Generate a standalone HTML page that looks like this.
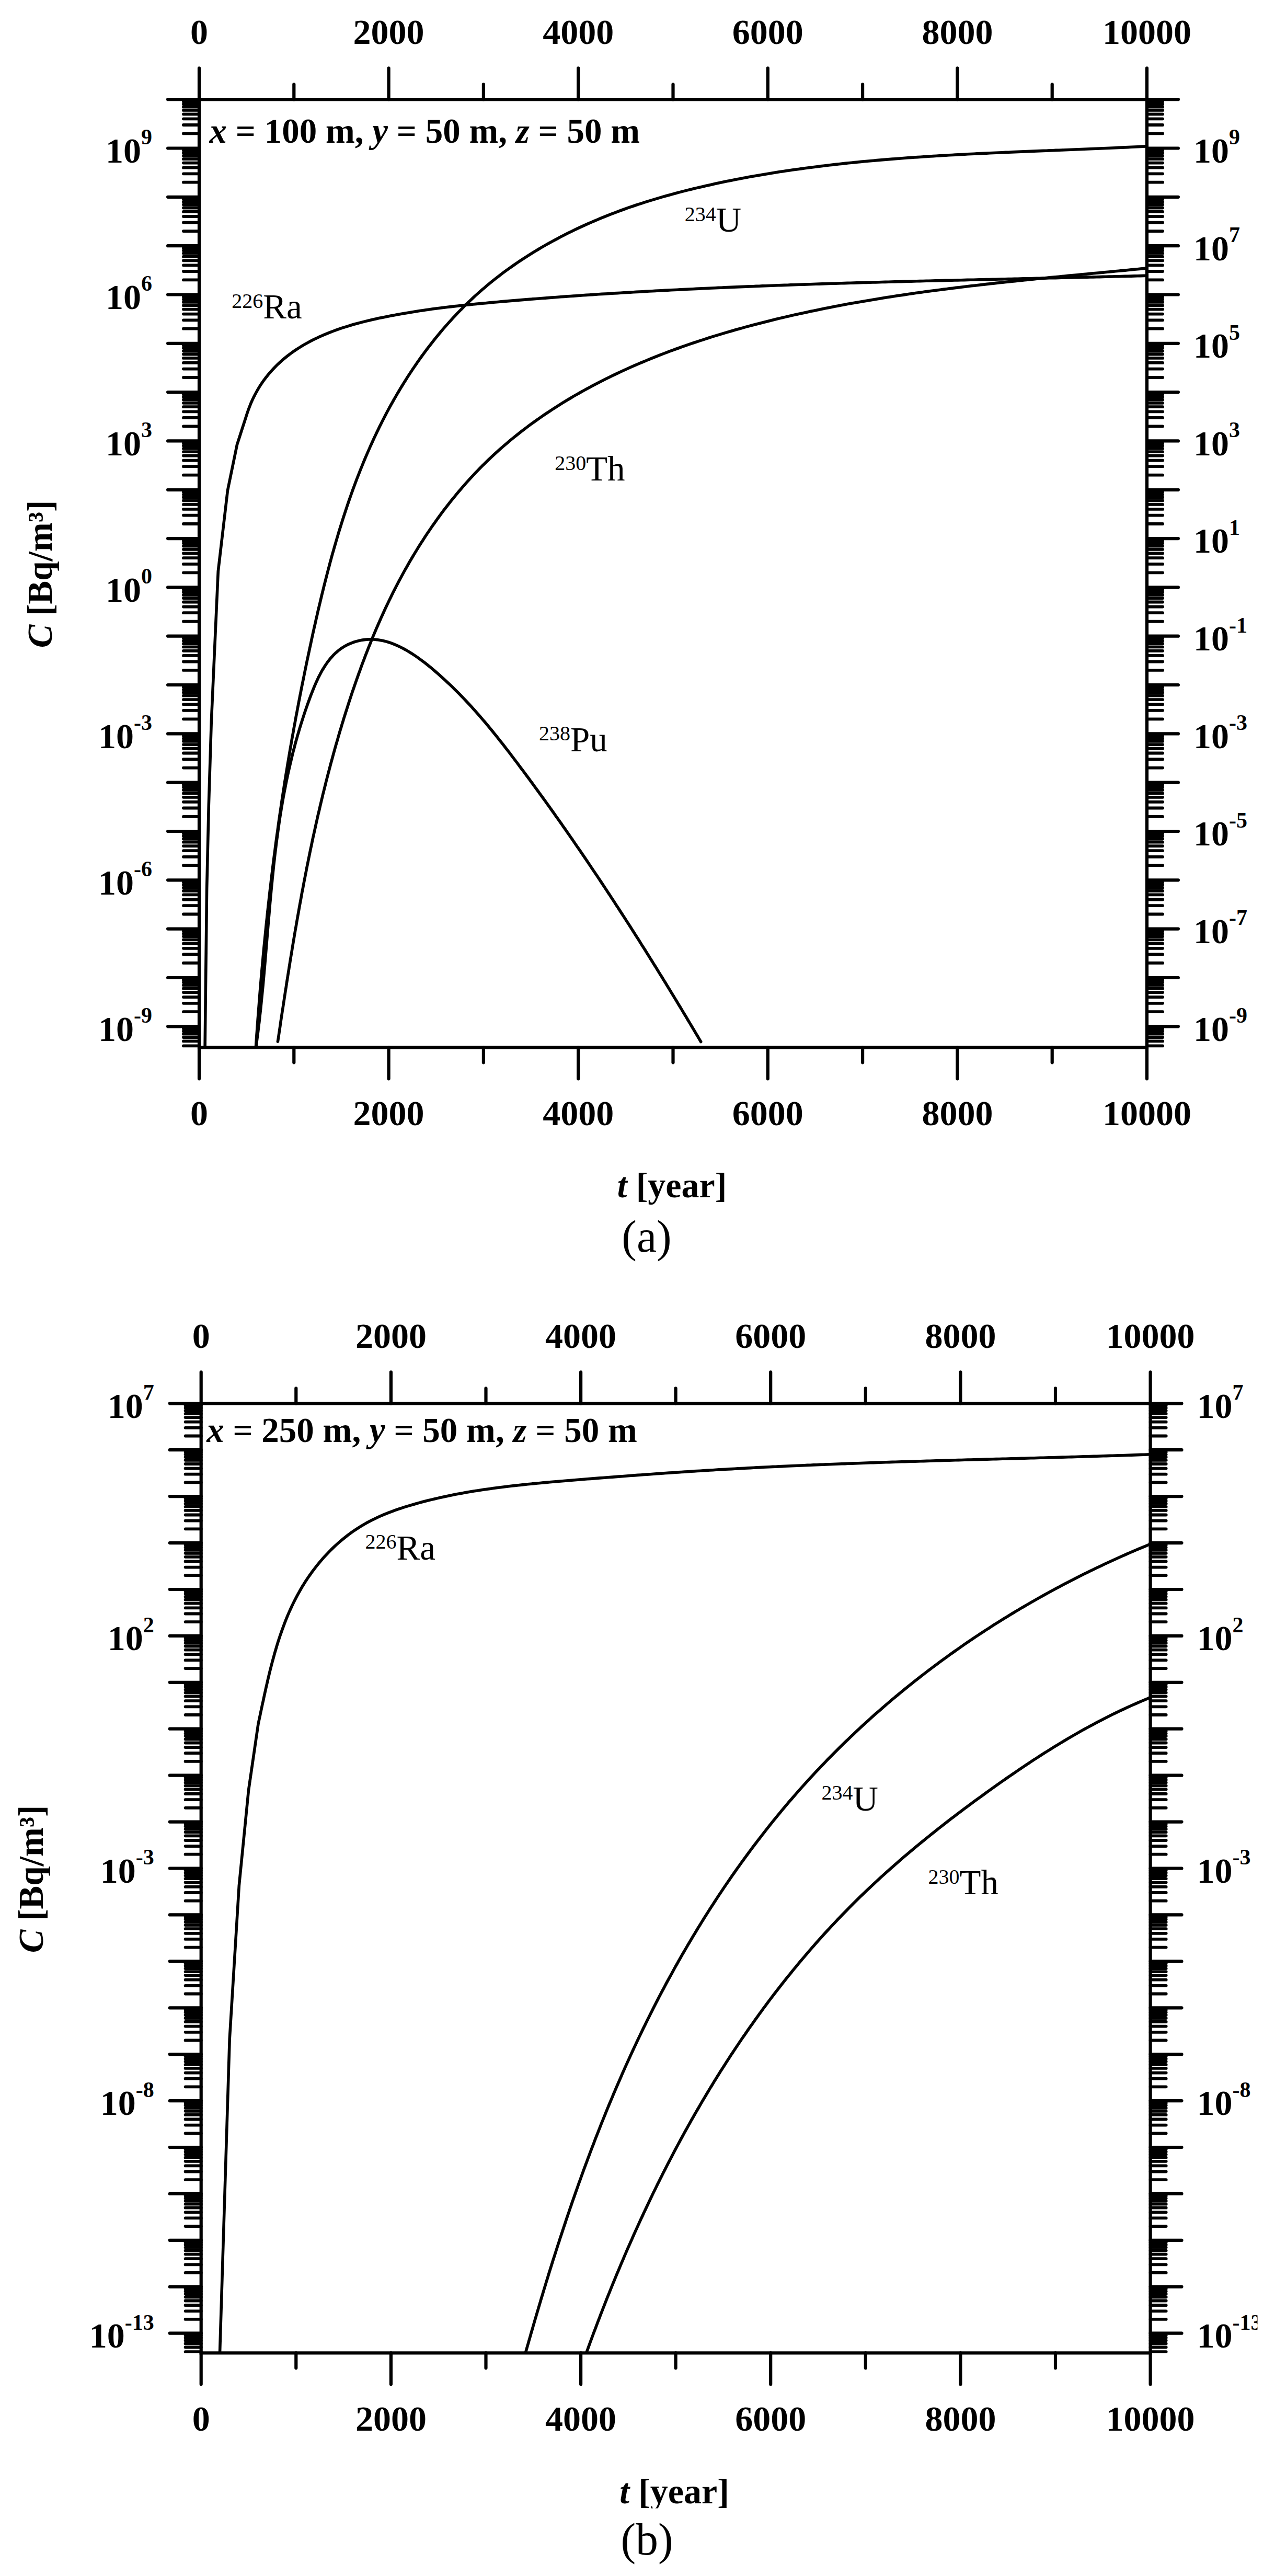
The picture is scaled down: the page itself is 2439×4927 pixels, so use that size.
<!DOCTYPE html>
<html lang="en"><head><meta charset="utf-8"><title>Radionuclide concentration vs time</title>
<style>html,body{margin:0;padding:0;background:#fff}body{width:2439px;height:4927px;overflow:hidden}svg{display:block}text{font-family:"Liberation Serif","Times New Roman",serif;fill:#000}.b{font-weight:bold;font-size:68px}.i{font-style:italic}.sp{font-size:42px}.an{font-size:67px}.n{font-size:67px}.ns{font-size:40px}.cap{font-size:86px}</style></head><body>
<svg width="2439" height="4927" viewBox="0 0 2439 4927">
<rect width="2439" height="4927" fill="#fff"/>
<g fill="none" stroke="#000" stroke-width="6.2" stroke-linecap="round"><rect x="381" y="190.2" width="1813" height="1813.2" fill="none"/><path d="M381,190.2 V130.3 M381,2003.4 V2063.3 M562.3,190.2 V161.3 M562.3,2003.4 V2032.3 M743.6,190.2 V130.3 M743.6,2003.4 V2063.3 M924.9,190.2 V161.3 M924.9,2003.4 V2032.3 M1106.2,190.2 V130.3 M1106.2,2003.4 V2063.3 M1287.5,190.2 V161.3 M1287.5,2003.4 V2032.3 M1468.8,190.2 V130.3 M1468.8,2003.4 V2063.3 M1650.1,190.2 V161.3 M1650.1,2003.4 V2032.3 M1831.4,190.2 V130.3 M1831.4,2003.4 V2063.3 M2012.7,190.2 V161.3 M2012.7,2003.4 V2032.3 M2194,190.2 V130.3 M2194,2003.4 V2063.3 M381,190.2 H321.1 M2194,190.2 H2253.9 M381,283.5 H321.1 M2194,283.5 H2253.9 M381,376.8 H321.1 M2194,376.8 H2253.9 M381,470.2 H321.1 M2194,470.2 H2253.9 M381,563.5 H321.1 M2194,563.5 H2253.9 M381,656.8 H321.1 M2194,656.8 H2253.9 M381,750.1 H321.1 M2194,750.1 H2253.9 M381,843.4 H321.1 M2194,843.4 H2253.9 M381,936.8 H321.1 M2194,936.8 H2253.9 M381,1030.1 H321.1 M2194,1030.1 H2253.9 M381,1123.4 H321.1 M2194,1123.4 H2253.9 M381,1216.7 H321.1 M2194,1216.7 H2253.9 M381,1310 H321.1 M2194,1310 H2253.9 M381,1403.4 H321.1 M2194,1403.4 H2253.9 M381,1496.7 H321.1 M2194,1496.7 H2253.9 M381,1590 H321.1 M2194,1590 H2253.9 M381,1683.3 H321.1 M2194,1683.3 H2253.9 M381,1776.6 H321.1 M2194,1776.6 H2253.9 M381,1870 H321.1 M2194,1870 H2253.9 M381,1963.3 H321.1 M2194,1963.3 H2253.9"/><path stroke-width="5.8" d="M381,255.4 H350.9 M2194,255.4 H2224.1 M381,239 H350.9 M2194,239 H2224.1 M381,227.3 H350.9 M2194,227.3 H2224.1 M381,218.3 H350.9 M2194,218.3 H2224.1 M381,210.9 H350.9 M2194,210.9 H2224.1 M381,204.7 H350.9 M2194,204.7 H2224.1 M381,199.2 H350.9 M2194,199.2 H2224.1 M381,194.5 H350.9 M2194,194.5 H2224.1 M381,348.7 H350.9 M2194,348.7 H2224.1 M381,332.3 H350.9 M2194,332.3 H2224.1 M381,320.7 H350.9 M2194,320.7 H2224.1 M381,311.6 H350.9 M2194,311.6 H2224.1 M381,304.2 H350.9 M2194,304.2 H2224.1 M381,298 H350.9 M2194,298 H2224.1 M381,292.6 H350.9 M2194,292.6 H2224.1 M381,287.8 H350.9 M2194,287.8 H2224.1 M381,442.1 H350.9 M2194,442.1 H2224.1 M381,425.6 H350.9 M2194,425.6 H2224.1 M381,414 H350.9 M2194,414 H2224.1 M381,404.9 H350.9 M2194,404.9 H2224.1 M381,397.5 H350.9 M2194,397.5 H2224.1 M381,391.3 H350.9 M2194,391.3 H2224.1 M381,385.9 H350.9 M2194,385.9 H2224.1 M381,381.1 H350.9 M2194,381.1 H2224.1 M381,535.4 H350.9 M2194,535.4 H2224.1 M381,519 H350.9 M2194,519 H2224.1 M381,507.3 H350.9 M2194,507.3 H2224.1 M381,498.3 H350.9 M2194,498.3 H2224.1 M381,490.9 H350.9 M2194,490.9 H2224.1 M381,484.6 H350.9 M2194,484.6 H2224.1 M381,479.2 H350.9 M2194,479.2 H2224.1 M381,474.4 H350.9 M2194,474.4 H2224.1 M381,628.7 H350.9 M2194,628.7 H2224.1 M381,612.3 H350.9 M2194,612.3 H2224.1 M381,600.6 H350.9 M2194,600.6 H2224.1 M381,591.6 H350.9 M2194,591.6 H2224.1 M381,584.2 H350.9 M2194,584.2 H2224.1 M381,577.9 H350.9 M2194,577.9 H2224.1 M381,572.5 H350.9 M2194,572.5 H2224.1 M381,567.8 H350.9 M2194,567.8 H2224.1 M381,722 H350.9 M2194,722 H2224.1 M381,705.6 H350.9 M2194,705.6 H2224.1 M381,693.9 H350.9 M2194,693.9 H2224.1 M381,684.9 H350.9 M2194,684.9 H2224.1 M381,677.5 H350.9 M2194,677.5 H2224.1 M381,671.3 H350.9 M2194,671.3 H2224.1 M381,665.8 H350.9 M2194,665.8 H2224.1 M381,661.1 H350.9 M2194,661.1 H2224.1 M381,815.3 H350.9 M2194,815.3 H2224.1 M381,798.9 H350.9 M2194,798.9 H2224.1 M381,787.3 H350.9 M2194,787.3 H2224.1 M381,778.2 H350.9 M2194,778.2 H2224.1 M381,770.8 H350.9 M2194,770.8 H2224.1 M381,764.6 H350.9 M2194,764.6 H2224.1 M381,759.2 H350.9 M2194,759.2 H2224.1 M381,754.4 H350.9 M2194,754.4 H2224.1 M381,908.7 H350.9 M2194,908.7 H2224.1 M381,892.2 H350.9 M2194,892.2 H2224.1 M381,880.6 H350.9 M2194,880.6 H2224.1 M381,871.5 H350.9 M2194,871.5 H2224.1 M381,864.1 H350.9 M2194,864.1 H2224.1 M381,857.9 H350.9 M2194,857.9 H2224.1 M381,852.5 H350.9 M2194,852.5 H2224.1 M381,847.7 H350.9 M2194,847.7 H2224.1 M381,1002 H350.9 M2194,1002 H2224.1 M381,985.6 H350.9 M2194,985.6 H2224.1 M381,973.9 H350.9 M2194,973.9 H2224.1 M381,964.9 H350.9 M2194,964.9 H2224.1 M381,957.5 H350.9 M2194,957.5 H2224.1 M381,951.2 H350.9 M2194,951.2 H2224.1 M381,945.8 H350.9 M2194,945.8 H2224.1 M381,941 H350.9 M2194,941 H2224.1 M381,1095.3 H350.9 M2194,1095.3 H2224.1 M381,1078.9 H350.9 M2194,1078.9 H2224.1 M381,1067.2 H350.9 M2194,1067.2 H2224.1 M381,1058.2 H350.9 M2194,1058.2 H2224.1 M381,1050.8 H350.9 M2194,1050.8 H2224.1 M381,1044.5 H350.9 M2194,1044.5 H2224.1 M381,1039.1 H350.9 M2194,1039.1 H2224.1 M381,1034.4 H350.9 M2194,1034.4 H2224.1 M381,1188.6 H350.9 M2194,1188.6 H2224.1 M381,1172.2 H350.9 M2194,1172.2 H2224.1 M381,1160.5 H350.9 M2194,1160.5 H2224.1 M381,1151.5 H350.9 M2194,1151.5 H2224.1 M381,1144.1 H350.9 M2194,1144.1 H2224.1 M381,1137.9 H350.9 M2194,1137.9 H2224.1 M381,1132.4 H350.9 M2194,1132.4 H2224.1 M381,1127.7 H350.9 M2194,1127.7 H2224.1 M381,1281.9 H350.9 M2194,1281.9 H2224.1 M381,1265.5 H350.9 M2194,1265.5 H2224.1 M381,1253.9 H350.9 M2194,1253.9 H2224.1 M381,1244.8 H350.9 M2194,1244.8 H2224.1 M381,1237.4 H350.9 M2194,1237.4 H2224.1 M381,1231.2 H350.9 M2194,1231.2 H2224.1 M381,1225.8 H350.9 M2194,1225.8 H2224.1 M381,1221 H350.9 M2194,1221 H2224.1 M381,1375.3 H350.9 M2194,1375.3 H2224.1 M381,1358.8 H350.9 M2194,1358.8 H2224.1 M381,1347.2 H350.9 M2194,1347.2 H2224.1 M381,1338.1 H350.9 M2194,1338.1 H2224.1 M381,1330.7 H350.9 M2194,1330.7 H2224.1 M381,1324.5 H350.9 M2194,1324.5 H2224.1 M381,1319.1 H350.9 M2194,1319.1 H2224.1 M381,1314.3 H350.9 M2194,1314.3 H2224.1 M381,1468.6 H350.9 M2194,1468.6 H2224.1 M381,1452.2 H350.9 M2194,1452.2 H2224.1 M381,1440.5 H350.9 M2194,1440.5 H2224.1 M381,1431.5 H350.9 M2194,1431.5 H2224.1 M381,1424.1 H350.9 M2194,1424.1 H2224.1 M381,1417.8 H350.9 M2194,1417.8 H2224.1 M381,1412.4 H350.9 M2194,1412.4 H2224.1 M381,1407.6 H350.9 M2194,1407.6 H2224.1 M381,1561.9 H350.9 M2194,1561.9 H2224.1 M381,1545.5 H350.9 M2194,1545.5 H2224.1 M381,1533.8 H350.9 M2194,1533.8 H2224.1 M381,1524.8 H350.9 M2194,1524.8 H2224.1 M381,1517.4 H350.9 M2194,1517.4 H2224.1 M381,1511.1 H350.9 M2194,1511.1 H2224.1 M381,1505.7 H350.9 M2194,1505.7 H2224.1 M381,1501 H350.9 M2194,1501 H2224.1 M381,1655.2 H350.9 M2194,1655.2 H2224.1 M381,1638.8 H350.9 M2194,1638.8 H2224.1 M381,1627.1 H350.9 M2194,1627.1 H2224.1 M381,1618.1 H350.9 M2194,1618.1 H2224.1 M381,1610.7 H350.9 M2194,1610.7 H2224.1 M381,1604.5 H350.9 M2194,1604.5 H2224.1 M381,1599 H350.9 M2194,1599 H2224.1 M381,1594.3 H350.9 M2194,1594.3 H2224.1 M381,1748.5 H350.9 M2194,1748.5 H2224.1 M381,1732.1 H350.9 M2194,1732.1 H2224.1 M381,1720.5 H350.9 M2194,1720.5 H2224.1 M381,1711.4 H350.9 M2194,1711.4 H2224.1 M381,1704 H350.9 M2194,1704 H2224.1 M381,1697.8 H350.9 M2194,1697.8 H2224.1 M381,1692.4 H350.9 M2194,1692.4 H2224.1 M381,1687.6 H350.9 M2194,1687.6 H2224.1 M381,1841.9 H350.9 M2194,1841.9 H2224.1 M381,1825.4 H350.9 M2194,1825.4 H2224.1 M381,1813.8 H350.9 M2194,1813.8 H2224.1 M381,1804.7 H350.9 M2194,1804.7 H2224.1 M381,1797.3 H350.9 M2194,1797.3 H2224.1 M381,1791.1 H350.9 M2194,1791.1 H2224.1 M381,1785.7 H350.9 M2194,1785.7 H2224.1 M381,1780.9 H350.9 M2194,1780.9 H2224.1 M381,1935.2 H350.9 M2194,1935.2 H2224.1 M381,1918.8 H350.9 M2194,1918.8 H2224.1 M381,1907.1 H350.9 M2194,1907.1 H2224.1 M381,1898.1 H350.9 M2194,1898.1 H2224.1 M381,1890.7 H350.9 M2194,1890.7 H2224.1 M381,1884.4 H350.9 M2194,1884.4 H2224.1 M381,1879 H350.9 M2194,1879 H2224.1 M381,1874.2 H350.9 M2194,1874.2 H2224.1 M381,2000.4 H350.9 M2194,2000.4 H2224.1 M381,1991.4 H350.9 M2194,1991.4 H2224.1 M381,1984 H350.9 M2194,1984 H2224.1 M381,1977.7 H350.9 M2194,1977.7 H2224.1 M381,1972.3 H350.9 M2194,1972.3 H2224.1 M381,1967.6 H350.9 M2194,1967.6 H2224.1"/></g>
<clipPath id="cpa"><rect x="381" y="190.2" width="1813" height="1813.2"/></clipPath>
<g clip-path="url(#cpa)" fill="none" stroke="#000" stroke-width="5.6" stroke-linecap="round" stroke-linejoin="round"><path d="M392.1,2003.4 L395.6,1700 L399.3,1540 L404.3,1380 L417.3,1092.6 L435.4,938.3 L453.5,850.4 L471,796.1 L473.1,789.7 L475.3,783.4 L477.6,777.2 L480,771.2 L482.6,765.3 L485.3,759.6 L488.2,754 L491.2,748.5 L494.3,743.1 L497.5,737.9 L500.9,732.8 L504.3,727.9 L507.9,723.1 L511.6,718.4 L515.4,713.8 L519.3,709.3 L523.3,705 L527.4,700.7 L531.6,696.6 L535.9,692.6 L540.3,688.7 L544.7,685 L549.3,681.3 L553.9,677.7 L558.6,674.3 L563.4,670.9 L568.3,667.6 L573.2,664.5 L578.2,661.4 L583.3,658.4 L588.4,655.6 L593.6,652.8 L598.8,650.1 L604.1,647.5 L609.5,644.9 L614.9,642.5 L620.3,640.1 L625.9,637.8 L631.4,635.6 L637,633.5 L642.6,631.4 L648.3,629.4 L654,627.4 L659.8,625.6 L665.6,623.8 L671.4,622 L677.2,620.3 L683.1,618.7 L689,617.1 L694.9,615.6 L700.8,614.1 L706.7,612.7 L712.7,611.3 L718.7,609.9 L724.7,608.6 L730.7,607.4 L736.7,606.2 L742.7,605 L748.7,603.8 L754.7,602.7 L760.7,601.6 L766.7,600.5 L772.7,599.4 L778.8,598.4 L784.8,597.4 L790.8,596.5 L796.8,595.5 L802.8,594.6 L808.8,593.7 L814.8,592.8 L820.8,592 L826.8,591.1 L832.8,590.3 L838.8,589.5 L844.8,588.8 L850.8,588 L856.8,587.3 L862.8,586.6 L868.8,585.9 L874.8,585.2 L880.8,584.5 L886.8,583.9 L892.8,583.2 L898.8,582.6 L904.8,582 L910.8,581.4 L916.8,580.8 L922.8,580.2 L928.8,579.7 L934.8,579.1 L940.8,578.5 L946.9,578 L952.9,577.5 L958.9,576.9 L964.9,576.4 L970.9,575.9 L976.9,575.4 L982.9,574.9 L988.9,574.4 L994.9,573.9 L1000.9,573.4 L1006.9,572.9 L1012.9,572.4 L1018.9,571.9 L1024.9,571.5 L1030.9,571 L1036.9,570.5 L1042.9,570.1 L1048.9,569.6 L1055,569.1 L1061,568.7 L1067,568.3 L1073,567.8 L1079,567.4 L1085,566.9 L1091,566.5 L1097,566.1 L1103,565.7 L1109.1,565.3 L1115.1,564.8 L1121.1,564.4 L1127.1,564 L1133.1,563.6 L1139.1,563.2 L1145.1,562.8 L1151.1,562.4 L1157.2,562.1 L1163.2,561.7 L1169.2,561.3 L1175.2,560.9 L1181.2,560.6 L1187.2,560.2 L1193.3,559.8 L1199.3,559.5 L1205.3,559.1 L1211.3,558.8 L1217.3,558.4 L1223.3,558.1 L1229.4,557.7 L1235.4,557.4 L1241.4,557 L1247.4,556.7 L1253.4,556.4 L1259.5,556 L1265.5,555.7 L1271.5,555.4 L1277.5,555.1 L1283.5,554.8 L1289.6,554.5 L1295.6,554.2 L1301.6,553.9 L1307.6,553.6 L1313.6,553.3 L1319.7,553 L1325.7,552.7 L1331.7,552.4 L1337.7,552.1 L1343.8,551.8 L1349.8,551.5 L1355.8,551.3 L1361.8,551 L1367.9,550.7 L1373.9,550.4 L1379.9,550.2 L1385.9,549.9 L1392,549.6 L1398,549.4 L1404,549.1 L1410,548.9 L1416.1,548.6 L1422.1,548.4 L1428.1,548.1 L1434.1,547.9 L1440.2,547.7 L1446.2,547.4 L1452.2,547.2 L1458.2,546.9 L1464.3,546.7 L1470.3,546.5 L1476.3,546.3 L1482.4,546 L1488.4,545.8 L1494.4,545.6 L1500.4,545.4 L1506.5,545.2 L1512.5,544.9 L1518.5,544.7 L1524.6,544.5 L1530.6,544.3 L1536.6,544.1 L1542.6,543.9 L1548.7,543.7 L1554.7,543.5 L1560.7,543.3 L1566.8,543.1 L1572.8,542.9 L1578.8,542.7 L1584.9,542.5 L1590.9,542.3 L1596.9,542.2 L1602.9,542 L1609,541.8 L1615,541.6 L1621,541.4 L1627.1,541.2 L1633.1,541.1 L1639.1,540.9 L1645.2,540.7 L1651.2,540.5 L1657.2,540.4 L1663.3,540.2 L1669.3,540 L1675.3,539.9 L1681.4,539.7 L1687.4,539.5 L1693.4,539.4 L1699.5,539.2 L1705.5,539 L1711.5,538.9 L1717.5,538.7 L1723.6,538.6 L1729.6,538.4 L1735.6,538.2 L1741.7,538.1 L1747.7,537.9 L1753.7,537.8 L1759.8,537.6 L1765.8,537.5 L1771.8,537.3 L1777.9,537.2 L1783.9,537 L1789.9,536.9 L1796,536.7 L1802,536.6 L1808,536.4 L1814.1,536.3 L1820.1,536.2 L1826.1,536 L1832.2,535.9 L1838.2,535.7 L1844.2,535.6 L1850.3,535.4 L1856.3,535.3 L1862.3,535.2 L1868.4,535 L1874.4,534.9 L1880.4,534.7 L1886.5,534.6 L1892.5,534.5 L1898.5,534.3 L1904.5,534.2 L1910.6,534 L1916.6,533.9 L1922.6,533.8 L1928.7,533.6 L1934.7,533.5 L1940.7,533.4 L1946.8,533.2 L1952.8,533.1 L1958.8,532.9 L1964.9,532.8 L1970.9,532.7 L1976.9,532.5 L1983,532.4 L1989,532.3 L1995,532.1 L2001.1,532 L2007.1,531.8 L2013.1,531.7 L2019.1,531.6 L2025.2,531.4 L2031.2,531.3 L2037.2,531.1 L2043.3,531 L2049.3,530.9 L2055.3,530.7 L2061.4,530.6 L2067.4,530.4 L2073.4,530.3 L2079.5,530.1 L2085.5,530 L2091.5,529.9 L2097.5,529.7 L2103.6,529.6 L2109.6,529.4 L2115.6,529.3 L2121.7,529.1 L2127.7,529 L2133.7,528.8 L2139.7,528.7 L2145.8,528.5 L2151.8,528.4 L2157.8,528.2 L2163.9,528.1 L2169.9,527.9 L2175.9,527.7 L2181.9,527.6 L2188,527.4 L2194,527.3"/><path d="M489.4,2003.6 L489.8,1997.5 L490.2,1991.5 L490.6,1985.5 L491,1979.5 L491.5,1973.5 L491.9,1967.5 L492.3,1961.4 L492.8,1955.4 L493.2,1949.4 L493.7,1943.4 L494.1,1937.4 L494.6,1931.4 L495.1,1925.4 L495.6,1919.3 L496,1913.3 L496.5,1907.3 L497,1901.3 L497.5,1895.3 L498,1889.3 L498.5,1883.3 L499,1877.3 L499.5,1871.3 L500.1,1865.3 L500.6,1859.3 L501.1,1853.2 L501.7,1847.2 L502.2,1841.2 L502.8,1835.2 L503.3,1829.2 L503.9,1823.2 L504.4,1817.2 L505,1811.2 L505.6,1805.2 L506.2,1799.2 L506.8,1793.2 L507.4,1787.2 L508,1781.2 L508.6,1775.3 L509.2,1769.3 L509.8,1763.3 L510.5,1757.3 L511.1,1751.3 L511.7,1745.3 L512.4,1739.3 L513,1733.3 L513.7,1727.3 L514.4,1721.4 L515,1715.4 L515.7,1709.4 L516.4,1703.4 L517.1,1697.4 L517.8,1691.5 L518.5,1685.5 L519.2,1679.5 L519.9,1673.5 L520.7,1667.6 L521.4,1661.6 L522.1,1655.6 L522.9,1649.7 L523.6,1643.7 L524.4,1637.7 L525.2,1631.8 L526,1625.8 L526.7,1619.8 L527.5,1613.9 L528.3,1607.9 L529.1,1602 L529.9,1596 L530.8,1590.1 L531.6,1584.1 L532.4,1578.2 L533.2,1572.2 L534.1,1566.3 L534.9,1560.3 L535.8,1554.4 L536.7,1548.4 L537.6,1542.5 L538.4,1536.6 L539.3,1530.6 L540.2,1524.7 L541.1,1518.8 L542.1,1512.8 L543,1506.9 L543.9,1501 L544.8,1495 L545.8,1489.1 L546.7,1483.2 L547.7,1477.3 L548.7,1471.4 L549.6,1465.4 L550.6,1459.5 L551.6,1453.6 L552.6,1447.7 L553.6,1441.8 L554.6,1435.9 L555.6,1430 L556.7,1424 L557.7,1418.1 L558.7,1412.2 L559.8,1406.3 L560.9,1400.4 L561.9,1394.5 L563,1388.6 L564.1,1382.7 L565.2,1376.8 L566.2,1370.9 L567.4,1365 L568.5,1359.1 L569.6,1353.2 L570.7,1347.3 L571.8,1341.4 L573,1335.5 L574.1,1329.6 L575.3,1323.7 L576.4,1317.8 L577.6,1311.9 L578.8,1306 L580,1300.1 L581.2,1294.2 L582.4,1288.3 L583.6,1282.4 L584.8,1276.5 L586,1270.6 L587.2,1264.7 L588.5,1258.9 L589.7,1253 L591,1247.1 L592.2,1241.2 L593.5,1235.3 L594.8,1229.4 L596,1223.5 L597.3,1217.6 L598.6,1211.7 L599.9,1205.8 L601.2,1199.9 L602.6,1194 L603.9,1188.1 L605.2,1182.2 L606.6,1176.3 L607.9,1170.4 L609.3,1164.5 L610.7,1158.7 L612.1,1152.8 L613.5,1146.9 L614.9,1141 L616.3,1135.1 L617.8,1129.2 L619.2,1123.4 L620.7,1117.5 L622.2,1111.6 L623.7,1105.8 L625.2,1099.9 L626.7,1094.1 L628.2,1088.2 L629.8,1082.4 L631.3,1076.5 L632.9,1070.7 L634.5,1064.8 L636.1,1059 L637.8,1053.2 L639.4,1047.4 L641.1,1041.6 L642.8,1035.8 L644.5,1030 L646.2,1024.2 L647.9,1018.4 L649.7,1012.6 L651.5,1006.8 L653.3,1001.1 L655.1,995.3 L656.9,989.6 L658.8,983.8 L660.7,978.1 L662.6,972.4 L664.5,966.7 L666.4,961 L668.4,955.3 L670.4,949.6 L672.4,943.9 L674.4,938.2 L676.5,932.6 L678.6,926.9 L680.7,921.3 L682.8,915.6 L685,910 L687.2,904.4 L689.4,898.8 L691.7,893.2 L693.9,887.7 L696.2,882.1 L698.5,876.6 L700.9,871 L703.3,865.5 L705.7,860 L708.1,854.5 L710.6,849 L713.1,843.5 L715.6,838 L718.2,832.6 L720.7,827.2 L723.4,821.7 L726,816.3 L728.7,810.9 L731.4,805.6 L734.1,800.2 L736.9,794.9 L739.7,789.5 L742.6,784.2 L745.4,778.9 L748.3,773.6 L751.3,768.4 L754.2,763.1 L757.3,757.9 L760.3,752.7 L763.4,747.5 L766.5,742.3 L769.6,737.2 L772.8,732 L776,726.9 L779.2,721.8 L782.5,716.8 L785.8,711.7 L789.1,706.7 L792.5,701.7 L795.9,696.8 L799.3,691.8 L802.8,686.9 L806.3,682 L809.9,677.1 L813.4,672.3 L817,667.5 L820.7,662.7 L824.4,658 L828.1,653.2 L831.8,648.5 L835.6,643.9 L839.4,639.2 L843.2,634.6 L847.1,630 L851,625.5 L855,621 L859,616.5 L863,612.1 L867,607.7 L871.1,603.3 L875.2,598.9 L879.4,594.6 L883.6,590.4 L887.8,586.1 L892.1,581.9 L896.3,577.8 L900.7,573.7 L905,569.6 L909.4,565.5 L913.9,561.5 L918.3,557.6 L922.8,553.6 L927.4,549.8 L931.9,545.9 L936.5,542.1 L941.2,538.3 L945.8,534.6 L950.5,530.9 L955.3,527.3 L960,523.6 L964.8,520.1 L969.6,516.5 L974.5,513 L979.3,509.6 L984.3,506.1 L989.2,502.8 L994.2,499.4 L999.1,496.1 L1004.2,492.8 L1009.2,489.6 L1014.3,486.4 L1019.4,483.2 L1024.5,480.1 L1029.6,477 L1034.8,473.9 L1040,470.9 L1045.2,467.9 L1050.4,465 L1055.7,462.1 L1061,459.2 L1066.3,456.4 L1071.6,453.5 L1077,450.8 L1082.3,448 L1087.7,445.3 L1093.1,442.7 L1098.5,440 L1104,437.4 L1109.4,434.9 L1114.9,432.4 L1120.4,429.9 L1125.9,427.4 L1131.5,425 L1137,422.6 L1142.6,420.2 L1148.1,417.9 L1153.7,415.6 L1159.3,413.3 L1165,411.1 L1170.6,408.9 L1176.2,406.8 L1181.9,404.6 L1187.6,402.5 L1193.2,400.5 L1198.9,398.4 L1204.6,396.4 L1210.4,394.5 L1216.1,392.5 L1221.8,390.6 L1227.6,388.8 L1233.3,386.9 L1239.1,385.1 L1244.8,383.3 L1250.6,381.6 L1256.4,379.8 L1262.2,378.1 L1268,376.4 L1273.8,374.8 L1279.6,373.2 L1285.4,371.6 L1291.3,370 L1297.1,368.4 L1303,366.9 L1308.8,365.4 L1314.7,363.9 L1320.5,362.5 L1326.4,361 L1332.2,359.6 L1338.1,358.2 L1344,356.9 L1349.9,355.5 L1355.8,354.2 L1361.6,352.9 L1367.5,351.6 L1373.4,350.3 L1379.3,349.1 L1385.2,347.8 L1391.1,346.6 L1397,345.4 L1402.9,344.3 L1408.8,343.1 L1414.7,342 L1420.7,340.8 L1426.6,339.7 L1432.5,338.6 L1438.4,337.6 L1444.3,336.5 L1450.3,335.5 L1456.2,334.4 L1462.1,333.4 L1468.1,332.4 L1474,331.5 L1479.9,330.5 L1485.9,329.6 L1491.8,328.6 L1497.8,327.7 L1503.7,326.8 L1509.7,325.9 L1515.6,325.1 L1521.6,324.2 L1527.5,323.4 L1533.5,322.6 L1539.4,321.8 L1545.4,321 L1551.4,320.2 L1557.3,319.4 L1563.3,318.7 L1569.3,317.9 L1575.2,317.2 L1581.2,316.5 L1587.2,315.8 L1593.1,315.1 L1599.1,314.4 L1605.1,313.7 L1611.1,313.1 L1617.1,312.4 L1623,311.8 L1629,311.2 L1635,310.6 L1641,310 L1647,309.4 L1653,308.8 L1659,308.3 L1665,307.7 L1671,307.2 L1677,306.6 L1683,306.1 L1689,305.6 L1695,305.1 L1701,304.6 L1707,304.1 L1713,303.7 L1719,303.2 L1725,302.7 L1731,302.3 L1737,301.8 L1743,301.4 L1749,301 L1755,300.6 L1761,300.2 L1767,299.8 L1773,299.4 L1779.1,299 L1785.1,298.6 L1791.1,298.2 L1797.1,297.9 L1803.1,297.5 L1809.1,297.2 L1815.1,296.8 L1821.2,296.5 L1827.2,296.1 L1833.2,295.8 L1839.2,295.5 L1845.2,295.2 L1851.2,294.8 L1857.3,294.5 L1863.3,294.2 L1869.3,293.9 L1875.3,293.6 L1881.3,293.3 L1887.3,293.1 L1893.4,292.8 L1899.4,292.5 L1905.4,292.2 L1911.4,292 L1917.4,291.7 L1923.5,291.4 L1929.5,291.2 L1935.5,290.9 L1941.5,290.6 L1947.5,290.4 L1953.6,290.1 L1959.6,289.9 L1965.6,289.6 L1971.6,289.4 L1977.6,289.1 L1983.6,288.9 L1989.7,288.6 L1995.7,288.4 L2001.7,288.2 L2007.7,287.9 L2013.7,287.7 L2019.7,287.4 L2025.7,287.2 L2031.7,287 L2037.8,286.7 L2043.8,286.5 L2049.8,286.2 L2055.8,286 L2061.8,285.7 L2067.8,285.5 L2073.8,285.3 L2079.8,285 L2085.8,284.8 L2091.8,284.5 L2097.8,284.3 L2103.8,284 L2109.8,283.7 L2115.8,283.5 L2121.8,283.2 L2127.8,283 L2133.8,282.7 L2139.8,282.4 L2145.8,282.1 L2151.8,281.9 L2157.8,281.6 L2163.8,281.3 L2169.8,281 L2175.8,280.7 L2181.7,280.4 L2187.7,280.1 L2193.7,279.8"/><path d="M531.4,1992.2 L532.3,1986.3 L533.2,1980.3 L534.1,1974.3 L535,1968.4 L535.9,1962.4 L536.7,1956.4 L537.6,1950.5 L538.5,1944.5 L539.4,1938.6 L540.3,1932.6 L541.3,1926.6 L542.2,1920.7 L543.1,1914.7 L544,1908.8 L544.9,1902.8 L545.8,1896.9 L546.8,1890.9 L547.7,1884.9 L548.6,1879 L549.5,1873 L550.5,1867.1 L551.4,1861.1 L552.4,1855.2 L553.3,1849.2 L554.3,1843.3 L555.2,1837.3 L556.2,1831.4 L557.2,1825.4 L558.2,1819.5 L559.1,1813.6 L560.1,1807.6 L561.1,1801.7 L562.1,1795.7 L563.1,1789.8 L564.1,1783.9 L565.1,1777.9 L566.2,1772 L567.2,1766.1 L568.2,1760.1 L569.3,1754.2 L570.3,1748.3 L571.4,1742.4 L572.4,1736.4 L573.5,1730.5 L574.6,1724.6 L575.7,1718.7 L576.7,1712.8 L577.8,1706.8 L579,1700.9 L580.1,1695 L581.2,1689.1 L582.3,1683.2 L583.5,1677.3 L584.6,1671.4 L585.8,1665.5 L586.9,1659.6 L588.1,1653.7 L589.3,1647.8 L590.5,1641.9 L591.7,1636 L592.9,1630.1 L594.1,1624.2 L595.4,1618.4 L596.6,1612.5 L597.8,1606.6 L599.1,1600.7 L600.4,1594.8 L601.7,1589 L603,1583.1 L604.3,1577.2 L605.6,1571.4 L606.9,1565.5 L608.2,1559.7 L609.6,1553.8 L611,1548 L612.3,1542.1 L613.7,1536.3 L615.1,1530.4 L616.5,1524.6 L617.9,1518.7 L619.4,1512.9 L620.8,1507.1 L622.3,1501.2 L623.7,1495.4 L625.2,1489.6 L626.7,1483.8 L628.2,1478 L629.8,1472.1 L631.3,1466.3 L632.8,1460.5 L634.4,1454.7 L636,1448.9 L637.6,1443.1 L639.2,1437.3 L640.8,1431.5 L642.4,1425.8 L644.1,1420 L645.8,1414.2 L647.4,1408.4 L649.1,1402.6 L650.8,1396.9 L652.6,1391.1 L654.3,1385.3 L656.1,1379.6 L657.8,1373.8 L659.6,1368.1 L661.4,1362.3 L663.3,1356.6 L665.1,1350.9 L666.9,1345.1 L668.8,1339.4 L670.7,1333.7 L672.6,1327.9 L674.5,1322.2 L676.5,1316.5 L678.4,1310.8 L680.4,1305.1 L682.4,1299.4 L684.4,1293.7 L686.4,1288 L688.5,1282.4 L690.5,1276.7 L692.6,1271 L694.7,1265.4 L696.9,1259.7 L699,1254.1 L701.2,1248.4 L703.4,1242.8 L705.6,1237.2 L707.9,1231.6 L710.1,1226 L712.4,1220.4 L714.7,1214.8 L717.1,1209.2 L719.4,1203.7 L721.8,1198.1 L724.2,1192.6 L726.7,1187 L729.1,1181.5 L731.6,1176 L734.1,1170.5 L736.6,1165 L739.2,1159.5 L741.8,1154.1 L744.4,1148.6 L747.1,1143.2 L749.7,1137.8 L752.4,1132.3 L755.2,1126.9 L757.9,1121.6 L760.7,1116.2 L763.5,1110.8 L766.4,1105.5 L769.3,1100.2 L772.2,1094.8 L775.1,1089.5 L778.1,1084.3 L781.1,1079 L784.1,1073.7 L787.2,1068.5 L790.3,1063.3 L793.4,1058.1 L796.6,1052.9 L799.7,1047.8 L803,1042.6 L806.2,1037.5 L809.5,1032.4 L812.8,1027.3 L816.1,1022.3 L819.5,1017.2 L822.9,1012.2 L826.3,1007.2 L829.8,1002.3 L833.3,997.3 L836.8,992.4 L840.4,987.5 L843.9,982.7 L847.5,977.8 L851.2,973 L854.9,968.2 L858.6,963.5 L862.3,958.8 L866.1,954.1 L869.9,949.4 L873.7,944.7 L877.6,940.1 L881.5,935.6 L885.4,931 L889.3,926.5 L893.3,922 L897.3,917.6 L901.4,913.1 L905.4,908.8 L909.5,904.4 L913.7,900.1 L917.9,895.8 L922,891.6 L926.3,887.4 L930.5,883.2 L934.8,879.1 L939.1,875 L943.5,870.9 L947.9,866.9 L952.3,862.9 L956.7,858.9 L961.2,855 L965.7,851.1 L970.2,847.3 L974.7,843.4 L979.3,839.6 L983.9,835.9 L988.5,832.2 L993.2,828.5 L997.9,824.8 L1002.6,821.2 L1007.3,817.6 L1012,814.1 L1016.8,810.5 L1021.6,807.1 L1026.5,803.6 L1031.3,800.2 L1036.2,796.8 L1041.1,793.4 L1046,790.1 L1051,786.8 L1056,783.5 L1060.9,780.3 L1066,777.1 L1071,773.9 L1076.1,770.7 L1081.1,767.6 L1086.2,764.5 L1091.4,761.5 L1096.5,758.4 L1101.7,755.4 L1106.9,752.5 L1112.1,749.5 L1117.3,746.6 L1122.5,743.7 L1127.8,740.9 L1133.1,738.1 L1138.4,735.3 L1143.7,732.5 L1149,729.7 L1154.4,727 L1159.8,724.3 L1165.1,721.7 L1170.5,719 L1176,716.4 L1181.4,713.9 L1186.9,711.3 L1192.3,708.8 L1197.8,706.3 L1203.3,703.8 L1208.8,701.3 L1214.3,698.9 L1219.9,696.5 L1225.4,694.1 L1231,691.8 L1236.6,689.5 L1242.2,687.2 L1247.8,684.9 L1253.4,682.6 L1259.1,680.4 L1264.7,678.2 L1270.4,676 L1276,673.9 L1281.7,671.7 L1287.4,669.6 L1293.1,667.5 L1298.8,665.5 L1304.5,663.4 L1310.3,661.4 L1316,659.4 L1321.8,657.4 L1327.5,655.5 L1333.3,653.6 L1339.1,651.7 L1344.8,649.8 L1350.6,647.9 L1356.4,646 L1362.2,644.2 L1368,642.4 L1373.9,640.6 L1379.7,638.9 L1385.5,637.1 L1391.4,635.4 L1397.2,633.7 L1403.1,632 L1408.9,630.3 L1414.8,628.7 L1420.6,627.1 L1426.5,625.4 L1432.4,623.9 L1438.2,622.3 L1444.1,620.7 L1450,619.2 L1455.9,617.7 L1461.8,616.2 L1467.7,614.7 L1473.6,613.2 L1479.5,611.8 L1485.3,610.3 L1491.2,608.9 L1497.1,607.5 L1503,606.1 L1508.9,604.8 L1514.8,603.4 L1520.7,602.1 L1526.6,600.8 L1532.5,599.5 L1538.4,598.2 L1544.3,596.9 L1550.2,595.6 L1556.1,594.4 L1562,593.2 L1567.9,592 L1573.8,590.8 L1579.7,589.6 L1585.6,588.4 L1591.5,587.2 L1597.4,586.1 L1603.4,585 L1609.3,583.8 L1615.2,582.7 L1621.1,581.6 L1627,580.6 L1632.9,579.5 L1638.8,578.5 L1644.7,577.4 L1650.6,576.4 L1656.5,575.4 L1662.5,574.4 L1668.4,573.4 L1674.3,572.4 L1680.2,571.4 L1686.1,570.5 L1692,569.5 L1698,568.6 L1703.9,567.7 L1709.8,566.7 L1715.7,565.8 L1721.6,564.9 L1727.6,564.1 L1733.5,563.2 L1739.4,562.3 L1745.3,561.5 L1751.3,560.6 L1757.2,559.8 L1763.1,559 L1769.1,558.1 L1775,557.3 L1780.9,556.5 L1786.9,555.7 L1792.8,555 L1798.7,554.2 L1804.7,553.4 L1810.6,552.7 L1816.6,551.9 L1822.5,551.2 L1828.5,550.4 L1834.4,549.7 L1840.3,549 L1846.3,548.3 L1852.2,547.5 L1858.2,546.8 L1864.1,546.2 L1870.1,545.5 L1876.1,544.8 L1882,544.1 L1888,543.4 L1893.9,542.8 L1899.9,542.1 L1905.9,541.4 L1911.8,540.8 L1917.8,540.2 L1923.8,539.5 L1929.7,538.9 L1935.7,538.2 L1941.7,537.6 L1947.6,537 L1953.6,536.4 L1959.6,535.8 L1965.6,535.1 L1971.6,534.5 L1977.5,533.9 L1983.5,533.3 L1989.5,532.7 L1995.5,532.1 L2001.5,531.5 L2007.5,530.9 L2013.5,530.4 L2019.5,529.8 L2025.5,529.2 L2031.5,528.6 L2037.5,528 L2043.5,527.4 L2049.5,526.9 L2055.5,526.3 L2061.5,525.7 L2067.5,525.1 L2073.5,524.6 L2079.5,524 L2085.5,523.4 L2091.6,522.8 L2097.6,522.3 L2103.6,521.7 L2109.6,521.1 L2115.7,520.5 L2121.7,520 L2127.7,519.4 L2133.7,518.8 L2139.8,518.2 L2145.8,517.6 L2151.9,517.1 L2157.9,516.5 L2163.9,515.9 L2170,515.3 L2176,514.7 L2182.1,514.1 L2188.1,513.5 L2194.2,512.9"/><path d="M489.6,2003.8 L490.4,1997.7 L491.2,1991.6 L492,1985.6 L492.8,1979.5 L493.6,1973.4 L494.3,1967.4 L495,1961.3 L495.8,1955.3 L496.5,1949.2 L497.1,1943.2 L497.8,1937.1 L498.5,1931.1 L499.1,1925 L499.7,1919 L500.3,1913 L500.9,1906.9 L501.5,1900.9 L502.1,1894.9 L502.7,1888.9 L503.3,1882.8 L503.8,1876.8 L504.4,1870.8 L504.9,1864.8 L505.4,1858.8 L506,1852.7 L506.5,1846.7 L507,1840.7 L507.5,1834.7 L508,1828.7 L508.5,1822.7 L509,1816.7 L509.5,1810.7 L510,1804.7 L510.5,1798.7 L511,1792.7 L511.5,1786.7 L512,1780.8 L512.5,1774.8 L513,1768.8 L513.5,1762.8 L514,1756.8 L514.6,1750.8 L515.1,1744.9 L515.6,1738.9 L516.1,1732.9 L516.6,1726.9 L517.2,1721 L517.7,1715 L518.3,1709 L518.8,1703.1 L519.4,1697.1 L520,1691.2 L520.6,1685.2 L521.1,1679.2 L521.8,1673.3 L522.4,1667.3 L523,1661.4 L523.6,1655.4 L524.3,1649.5 L525,1643.5 L525.6,1637.6 L526.3,1631.6 L527.1,1625.7 L527.8,1619.8 L528.5,1613.8 L529.3,1607.9 L530.1,1601.9 L530.9,1596 L531.7,1590.1 L532.5,1584.1 L533.4,1578.2 L534.2,1572.3 L535.1,1566.4 L536,1560.4 L537,1554.5 L537.9,1548.6 L538.9,1542.7 L539.9,1536.7 L541,1530.8 L542,1524.9 L543.1,1519 L544.2,1513.1 L545.4,1507.2 L546.5,1501.3 L547.7,1495.3 L548.9,1489.4 L550.2,1483.5 L551.4,1477.6 L552.8,1471.7 L554.1,1465.8 L555.5,1459.9 L556.9,1454 L558.3,1448.1 L559.7,1442.2 L561.2,1436.3 L562.8,1430.4 L564.3,1424.5 L565.9,1418.6 L567.6,1412.7 L569.2,1406.8 L571,1400.9 L572.7,1395 L574.5,1389.1 L576.3,1383.2 L578.2,1377.4 L580.1,1371.5 L582,1365.6 L584,1359.7 L586,1353.8 L588.1,1347.9 L590.2,1342 L592.3,1336.2 L594.5,1330.3 L596.8,1324.4 L599.1,1318.6 L601.5,1312.8 L603.9,1307.1 L606.5,1301.5 L609.1,1295.9 L611.9,1290.5 L614.7,1285.1 L617.7,1279.9 L620.8,1274.9 L624.1,1270 L627.5,1265.2 L631,1260.7 L634.8,1256.4 L638.6,1252.2 L642.7,1248.3 L647,1244.6 L651.4,1241.2 L656.1,1238.1 L660.9,1235.2 L666,1232.6 L671.2,1230.3 L676.5,1228.3 L682,1226.6 L687.5,1225.2 L693.2,1224.1 L698.8,1223.4 L704.5,1222.9 L710.2,1222.8 L715.9,1223 L721.5,1223.6 L727.1,1224.4 L732.7,1225.5 L738.3,1226.9 L743.8,1228.5 L749.4,1230.4 L754.8,1232.6 L760.3,1234.9 L765.7,1237.5 L771.1,1240.2 L776.5,1243.2 L781.8,1246.3 L787.1,1249.6 L792.3,1253 L797.5,1256.5 L802.6,1260.2 L807.7,1264 L812.8,1267.8 L817.8,1271.8 L822.8,1275.8 L827.7,1279.9 L832.5,1284 L837.3,1288.2 L842,1292.4 L846.7,1296.6 L851.3,1300.8 L855.9,1305.1 L860.4,1309.3 L864.9,1313.6 L869.3,1317.9 L873.7,1322.3 L878,1326.6 L882.3,1331 L886.5,1335.4 L890.7,1339.8 L894.9,1344.2 L899,1348.6 L903.1,1353.1 L907.1,1357.6 L911.1,1362.1 L915.1,1366.6 L919,1371.1 L922.9,1375.7 L926.8,1380.2 L930.7,1384.8 L934.5,1389.4 L938.3,1394 L942.1,1398.6 L945.8,1403.2 L949.5,1407.8 L953.2,1412.5 L956.9,1417.2 L960.6,1421.8 L964.3,1426.5 L967.9,1431.2 L971.5,1435.9 L975.2,1440.6 L978.8,1445.4 L982.4,1450.1 L986,1454.9 L989.6,1459.6 L993.1,1464.4 L996.7,1469.2 L1000.3,1473.9 L1003.8,1478.7 L1007.4,1483.5 L1011,1488.3 L1014.5,1493.1 L1018.1,1498 L1021.6,1502.8 L1025.1,1507.6 L1028.7,1512.5 L1032.2,1517.3 L1035.7,1522.2 L1039.2,1527 L1042.8,1531.9 L1046.3,1536.8 L1049.8,1541.7 L1053.3,1546.6 L1056.8,1551.5 L1060.3,1556.4 L1063.7,1561.3 L1067.2,1566.2 L1070.7,1571.1 L1074.2,1576 L1077.6,1581 L1081.1,1585.9 L1084.5,1590.9 L1088,1595.8 L1091.4,1600.8 L1094.9,1605.7 L1098.3,1610.7 L1101.7,1615.7 L1105.1,1620.7 L1108.6,1625.6 L1112,1630.6 L1115.4,1635.6 L1118.8,1640.6 L1122.2,1645.6 L1125.6,1650.7 L1129,1655.7 L1132.3,1660.7 L1135.7,1665.7 L1139.1,1670.7 L1142.5,1675.8 L1145.8,1680.8 L1149.2,1685.9 L1152.5,1690.9 L1155.9,1696 L1159.2,1701 L1162.5,1706.1 L1165.9,1711.1 L1169.2,1716.2 L1172.5,1721.3 L1175.8,1726.3 L1179.1,1731.4 L1182.5,1736.5 L1185.7,1741.6 L1189,1746.6 L1192.3,1751.7 L1195.6,1756.8 L1198.9,1761.9 L1202.2,1767 L1205.4,1772.1 L1208.7,1777.2 L1211.9,1782.3 L1215.2,1787.4 L1218.4,1792.5 L1221.7,1797.6 L1224.9,1802.7 L1228.1,1807.9 L1231.4,1813 L1234.6,1818.1 L1237.8,1823.2 L1241,1828.3 L1244.2,1833.5 L1247.4,1838.6 L1250.6,1843.7 L1253.8,1848.8 L1257,1854 L1260.1,1859.1 L1263.3,1864.2 L1266.5,1869.3 L1269.6,1874.5 L1272.8,1879.6 L1275.9,1884.7 L1279.1,1889.9 L1282.2,1895 L1285.3,1900.1 L1288.5,1905.3 L1291.6,1910.4 L1294.7,1915.5 L1297.8,1920.7 L1300.9,1925.8 L1304,1930.9 L1307.1,1936.1 L1310.2,1941.2 L1313.3,1946.3 L1316.3,1951.5 L1319.4,1956.6 L1322.5,1961.7 L1325.5,1966.8 L1328.6,1972 L1331.6,1977.1 L1334.7,1982.2 L1337.7,1987.3 L1340.7,1992.5"/></g>
<g class="b" text-anchor="middle"><text x="381" y="84">0</text><text x="381" y="2152.2">0</text><text x="743.6" y="84">2000</text><text x="743.6" y="2152.2">2000</text><text x="1106.2" y="84">4000</text><text x="1106.2" y="2152.2">4000</text><text x="1468.8" y="84">6000</text><text x="1468.8" y="2152.2">6000</text><text x="1831.4" y="84">8000</text><text x="1831.4" y="2152.2">8000</text><text x="2194" y="84">10000</text><text x="2194" y="2152.2">10000</text></g>
<g class="b"><text x="291" y="310.8" text-anchor="end">10<tspan class="sp" dy="-34.5">9</tspan></text><text x="291" y="590.8" text-anchor="end">10<tspan class="sp" dy="-34.5">6</tspan></text><text x="291" y="870.7" text-anchor="end">10<tspan class="sp" dy="-34.5">3</tspan></text><text x="291" y="1150.7" text-anchor="end">10<tspan class="sp" dy="-34.5">0</tspan></text><text x="291" y="1430.7" text-anchor="end">10<tspan class="sp" dy="-34.5">-3</tspan></text><text x="291" y="1710.6" text-anchor="end">10<tspan class="sp" dy="-34.5">-6</tspan></text><text x="291" y="1990.6" text-anchor="end">10<tspan class="sp" dy="-34.5">-9</tspan></text><text x="2283" y="310.8">10<tspan class="sp" dy="-34.5">9</tspan></text><text x="2283" y="497.5">10<tspan class="sp" dy="-34.5">7</tspan></text><text x="2283" y="684.1">10<tspan class="sp" dy="-34.5">5</tspan></text><text x="2283" y="870.7">10<tspan class="sp" dy="-34.5">3</tspan></text><text x="2283" y="1057.4">10<tspan class="sp" dy="-34.5">1</tspan></text><text x="2283" y="1244">10<tspan class="sp" dy="-34.5">-1</tspan></text><text x="2283" y="1430.7">10<tspan class="sp" dy="-34.5">-3</tspan></text><text x="2283" y="1617.3">10<tspan class="sp" dy="-34.5">-5</tspan></text><text x="2283" y="1803.9">10<tspan class="sp" dy="-34.5">-7</tspan></text><text x="2283" y="1990.6">10<tspan class="sp" dy="-34.5">-9</tspan></text></g>
<text class="b an" x="400.5" y="273.4"><tspan class="i">x</tspan> = 100 m, <tspan class="i">y</tspan> = 50 m, <tspan class="i">z</tspan> = 50 m</text>
<text class="b an" text-anchor="middle" transform="translate(98.8,1098) rotate(-90)"><tspan class="i">C</tspan> [Bq/m³]</text>
<text class="n" x="443.3" y="609.3"><tspan class="ns" dy="-20.5">226</tspan><tspan dy="20.5">Ra</tspan></text>
<text class="n" x="1309.8" y="443.3"><tspan class="ns" dy="-20.5">234</tspan><tspan dy="20.5">U</tspan></text>
<text class="n" x="1061.2" y="919"><tspan class="ns" dy="-20.5">230</tspan><tspan dy="20.5">Th</tspan></text>
<text class="n" x="1030.9" y="1436.5"><tspan class="ns" dy="-20.5">238</tspan><tspan dy="20.5">Pu</tspan></text>
<text class="b" text-anchor="middle" x="1285.5" y="2290"><tspan class="i">t</tspan> [year]</text>
<text class="cap" text-anchor="middle" x="1237" y="2393.5">(a)</text>
<g fill="none" stroke="#000" stroke-width="6.2" stroke-linecap="round"><rect x="384.7" y="2684.3" width="1815.9" height="1816.1" fill="none"/><path d="M384.7,2684.3 V2624.4 M384.7,4500.4 V4560.3 M566.3,2684.3 V2655.4 M566.3,4500.4 V4529.3 M747.9,2684.3 V2624.4 M747.9,4500.4 V4560.3 M929.5,2684.3 V2655.4 M929.5,4500.4 V4529.3 M1111.1,2684.3 V2624.4 M1111.1,4500.4 V4560.3 M1292.6,2684.3 V2655.4 M1292.6,4500.4 V4529.3 M1474.2,2684.3 V2624.4 M1474.2,4500.4 V4560.3 M1655.8,2684.3 V2655.4 M1655.8,4500.4 V4529.3 M1837.4,2684.3 V2624.4 M1837.4,4500.4 V4560.3 M2019,2684.3 V2655.4 M2019,4500.4 V4529.3 M2200.6,2684.3 V2624.4 M2200.6,4500.4 V4560.3 M384.7,2684.3 H324.8 M2200.6,2684.3 H2260.5 M384.7,2773.2 H324.8 M2200.6,2773.2 H2260.5 M384.7,2862.1 H324.8 M2200.6,2862.1 H2260.5 M384.7,2951.1 H324.8 M2200.6,2951.1 H2260.5 M384.7,3040 H324.8 M2200.6,3040 H2260.5 M384.7,3128.9 H324.8 M2200.6,3128.9 H2260.5 M384.7,3217.8 H324.8 M2200.6,3217.8 H2260.5 M384.7,3306.7 H324.8 M2200.6,3306.7 H2260.5 M384.7,3395.7 H324.8 M2200.6,3395.7 H2260.5 M384.7,3484.6 H324.8 M2200.6,3484.6 H2260.5 M384.7,3573.5 H324.8 M2200.6,3573.5 H2260.5 M384.7,3662.4 H324.8 M2200.6,3662.4 H2260.5 M384.7,3751.3 H324.8 M2200.6,3751.3 H2260.5 M384.7,3840.3 H324.8 M2200.6,3840.3 H2260.5 M384.7,3929.2 H324.8 M2200.6,3929.2 H2260.5 M384.7,4018.1 H324.8 M2200.6,4018.1 H2260.5 M384.7,4107 H324.8 M2200.6,4107 H2260.5 M384.7,4195.9 H324.8 M2200.6,4195.9 H2260.5 M384.7,4284.9 H324.8 M2200.6,4284.9 H2260.5 M384.7,4373.8 H324.8 M2200.6,4373.8 H2260.5 M384.7,4462.7 H324.8 M2200.6,4462.7 H2260.5"/><path stroke-width="5.8" d="M384.7,2746.5 H354.6 M2200.6,2746.5 H2230.7 M384.7,2730.8 H354.6 M2200.6,2730.8 H2230.7 M384.7,2719.7 H354.6 M2200.6,2719.7 H2230.7 M384.7,2711.1 H354.6 M2200.6,2711.1 H2230.7 M384.7,2704 H354.6 M2200.6,2704 H2230.7 M384.7,2698.1 H354.6 M2200.6,2698.1 H2230.7 M384.7,2692.9 H354.6 M2200.6,2692.9 H2230.7 M384.7,2688.4 H354.6 M2200.6,2688.4 H2230.7 M384.7,2835.4 H354.6 M2200.6,2835.4 H2230.7 M384.7,2819.7 H354.6 M2200.6,2819.7 H2230.7 M384.7,2808.6 H354.6 M2200.6,2808.6 H2230.7 M384.7,2800 H354.6 M2200.6,2800 H2230.7 M384.7,2792.9 H354.6 M2200.6,2792.9 H2230.7 M384.7,2787 H354.6 M2200.6,2787 H2230.7 M384.7,2781.8 H354.6 M2200.6,2781.8 H2230.7 M384.7,2777.3 H354.6 M2200.6,2777.3 H2230.7 M384.7,2924.3 H354.6 M2200.6,2924.3 H2230.7 M384.7,2908.6 H354.6 M2200.6,2908.6 H2230.7 M384.7,2897.5 H354.6 M2200.6,2897.5 H2230.7 M384.7,2888.9 H354.6 M2200.6,2888.9 H2230.7 M384.7,2881.9 H354.6 M2200.6,2881.9 H2230.7 M384.7,2875.9 H354.6 M2200.6,2875.9 H2230.7 M384.7,2870.8 H354.6 M2200.6,2870.8 H2230.7 M384.7,2866.2 H354.6 M2200.6,2866.2 H2230.7 M384.7,3013.2 H354.6 M2200.6,3013.2 H2230.7 M384.7,2997.6 H354.6 M2200.6,2997.6 H2230.7 M384.7,2986.4 H354.6 M2200.6,2986.4 H2230.7 M384.7,2977.8 H354.6 M2200.6,2977.8 H2230.7 M384.7,2970.8 H354.6 M2200.6,2970.8 H2230.7 M384.7,2964.8 H354.6 M2200.6,2964.8 H2230.7 M384.7,2959.7 H354.6 M2200.6,2959.7 H2230.7 M384.7,2955.1 H354.6 M2200.6,2955.1 H2230.7 M384.7,3102.1 H354.6 M2200.6,3102.1 H2230.7 M384.7,3086.5 H354.6 M2200.6,3086.5 H2230.7 M384.7,3075.4 H354.6 M2200.6,3075.4 H2230.7 M384.7,3066.7 H354.6 M2200.6,3066.7 H2230.7 M384.7,3059.7 H354.6 M2200.6,3059.7 H2230.7 M384.7,3053.8 H354.6 M2200.6,3053.8 H2230.7 M384.7,3048.6 H354.6 M2200.6,3048.6 H2230.7 M384.7,3044 H354.6 M2200.6,3044 H2230.7 M384.7,3191.1 H354.6 M2200.6,3191.1 H2230.7 M384.7,3175.4 H354.6 M2200.6,3175.4 H2230.7 M384.7,3164.3 H354.6 M2200.6,3164.3 H2230.7 M384.7,3155.7 H354.6 M2200.6,3155.7 H2230.7 M384.7,3148.6 H354.6 M2200.6,3148.6 H2230.7 M384.7,3142.7 H354.6 M2200.6,3142.7 H2230.7 M384.7,3137.5 H354.6 M2200.6,3137.5 H2230.7 M384.7,3133 H354.6 M2200.6,3133 H2230.7 M384.7,3280 H354.6 M2200.6,3280 H2230.7 M384.7,3264.3 H354.6 M2200.6,3264.3 H2230.7 M384.7,3253.2 H354.6 M2200.6,3253.2 H2230.7 M384.7,3244.6 H354.6 M2200.6,3244.6 H2230.7 M384.7,3237.5 H354.6 M2200.6,3237.5 H2230.7 M384.7,3231.6 H354.6 M2200.6,3231.6 H2230.7 M384.7,3226.4 H354.6 M2200.6,3226.4 H2230.7 M384.7,3221.9 H354.6 M2200.6,3221.9 H2230.7 M384.7,3368.9 H354.6 M2200.6,3368.9 H2230.7 M384.7,3353.2 H354.6 M2200.6,3353.2 H2230.7 M384.7,3342.1 H354.6 M2200.6,3342.1 H2230.7 M384.7,3333.5 H354.6 M2200.6,3333.5 H2230.7 M384.7,3326.5 H354.6 M2200.6,3326.5 H2230.7 M384.7,3320.5 H354.6 M2200.6,3320.5 H2230.7 M384.7,3315.4 H354.6 M2200.6,3315.4 H2230.7 M384.7,3310.8 H354.6 M2200.6,3310.8 H2230.7 M384.7,3457.8 H354.6 M2200.6,3457.8 H2230.7 M384.7,3442.2 H354.6 M2200.6,3442.2 H2230.7 M384.7,3431 H354.6 M2200.6,3431 H2230.7 M384.7,3422.4 H354.6 M2200.6,3422.4 H2230.7 M384.7,3415.4 H354.6 M2200.6,3415.4 H2230.7 M384.7,3409.4 H354.6 M2200.6,3409.4 H2230.7 M384.7,3404.3 H354.6 M2200.6,3404.3 H2230.7 M384.7,3399.7 H354.6 M2200.6,3399.7 H2230.7 M384.7,3546.7 H354.6 M2200.6,3546.7 H2230.7 M384.7,3531.1 H354.6 M2200.6,3531.1 H2230.7 M384.7,3520 H354.6 M2200.6,3520 H2230.7 M384.7,3511.3 H354.6 M2200.6,3511.3 H2230.7 M384.7,3504.3 H354.6 M2200.6,3504.3 H2230.7 M384.7,3498.4 H354.6 M2200.6,3498.4 H2230.7 M384.7,3493.2 H354.6 M2200.6,3493.2 H2230.7 M384.7,3488.6 H354.6 M2200.6,3488.6 H2230.7 M384.7,3635.7 H354.6 M2200.6,3635.7 H2230.7 M384.7,3620 H354.6 M2200.6,3620 H2230.7 M384.7,3608.9 H354.6 M2200.6,3608.9 H2230.7 M384.7,3600.3 H354.6 M2200.6,3600.3 H2230.7 M384.7,3593.2 H354.6 M2200.6,3593.2 H2230.7 M384.7,3587.3 H354.6 M2200.6,3587.3 H2230.7 M384.7,3582.1 H354.6 M2200.6,3582.1 H2230.7 M384.7,3577.6 H354.6 M2200.6,3577.6 H2230.7 M384.7,3724.6 H354.6 M2200.6,3724.6 H2230.7 M384.7,3708.9 H354.6 M2200.6,3708.9 H2230.7 M384.7,3697.8 H354.6 M2200.6,3697.8 H2230.7 M384.7,3689.2 H354.6 M2200.6,3689.2 H2230.7 M384.7,3682.1 H354.6 M2200.6,3682.1 H2230.7 M384.7,3676.2 H354.6 M2200.6,3676.2 H2230.7 M384.7,3671 H354.6 M2200.6,3671 H2230.7 M384.7,3666.5 H354.6 M2200.6,3666.5 H2230.7 M384.7,3813.5 H354.6 M2200.6,3813.5 H2230.7 M384.7,3797.8 H354.6 M2200.6,3797.8 H2230.7 M384.7,3786.7 H354.6 M2200.6,3786.7 H2230.7 M384.7,3778.1 H354.6 M2200.6,3778.1 H2230.7 M384.7,3771.1 H354.6 M2200.6,3771.1 H2230.7 M384.7,3765.1 H354.6 M2200.6,3765.1 H2230.7 M384.7,3760 H354.6 M2200.6,3760 H2230.7 M384.7,3755.4 H354.6 M2200.6,3755.4 H2230.7 M384.7,3902.4 H354.6 M2200.6,3902.4 H2230.7 M384.7,3886.8 H354.6 M2200.6,3886.8 H2230.7 M384.7,3875.6 H354.6 M2200.6,3875.6 H2230.7 M384.7,3867 H354.6 M2200.6,3867 H2230.7 M384.7,3860 H354.6 M2200.6,3860 H2230.7 M384.7,3854 H354.6 M2200.6,3854 H2230.7 M384.7,3848.9 H354.6 M2200.6,3848.9 H2230.7 M384.7,3844.3 H354.6 M2200.6,3844.3 H2230.7 M384.7,3991.3 H354.6 M2200.6,3991.3 H2230.7 M384.7,3975.7 H354.6 M2200.6,3975.7 H2230.7 M384.7,3964.6 H354.6 M2200.6,3964.6 H2230.7 M384.7,3955.9 H354.6 M2200.6,3955.9 H2230.7 M384.7,3948.9 H354.6 M2200.6,3948.9 H2230.7 M384.7,3943 H354.6 M2200.6,3943 H2230.7 M384.7,3937.8 H354.6 M2200.6,3937.8 H2230.7 M384.7,3933.2 H354.6 M2200.6,3933.2 H2230.7 M384.7,4080.3 H354.6 M2200.6,4080.3 H2230.7 M384.7,4064.6 H354.6 M2200.6,4064.6 H2230.7 M384.7,4053.5 H354.6 M2200.6,4053.5 H2230.7 M384.7,4044.9 H354.6 M2200.6,4044.9 H2230.7 M384.7,4037.8 H354.6 M2200.6,4037.8 H2230.7 M384.7,4031.9 H354.6 M2200.6,4031.9 H2230.7 M384.7,4026.7 H354.6 M2200.6,4026.7 H2230.7 M384.7,4022.2 H354.6 M2200.6,4022.2 H2230.7 M384.7,4169.2 H354.6 M2200.6,4169.2 H2230.7 M384.7,4153.5 H354.6 M2200.6,4153.5 H2230.7 M384.7,4142.4 H354.6 M2200.6,4142.4 H2230.7 M384.7,4133.8 H354.6 M2200.6,4133.8 H2230.7 M384.7,4126.7 H354.6 M2200.6,4126.7 H2230.7 M384.7,4120.8 H354.6 M2200.6,4120.8 H2230.7 M384.7,4115.6 H354.6 M2200.6,4115.6 H2230.7 M384.7,4111.1 H354.6 M2200.6,4111.1 H2230.7 M384.7,4258.1 H354.6 M2200.6,4258.1 H2230.7 M384.7,4242.4 H354.6 M2200.6,4242.4 H2230.7 M384.7,4231.3 H354.6 M2200.6,4231.3 H2230.7 M384.7,4222.7 H354.6 M2200.6,4222.7 H2230.7 M384.7,4215.7 H354.6 M2200.6,4215.7 H2230.7 M384.7,4209.7 H354.6 M2200.6,4209.7 H2230.7 M384.7,4204.6 H354.6 M2200.6,4204.6 H2230.7 M384.7,4200 H354.6 M2200.6,4200 H2230.7 M384.7,4347 H354.6 M2200.6,4347 H2230.7 M384.7,4331.4 H354.6 M2200.6,4331.4 H2230.7 M384.7,4320.2 H354.6 M2200.6,4320.2 H2230.7 M384.7,4311.6 H354.6 M2200.6,4311.6 H2230.7 M384.7,4304.6 H354.6 M2200.6,4304.6 H2230.7 M384.7,4298.6 H354.6 M2200.6,4298.6 H2230.7 M384.7,4293.5 H354.6 M2200.6,4293.5 H2230.7 M384.7,4288.9 H354.6 M2200.6,4288.9 H2230.7 M384.7,4435.9 H354.6 M2200.6,4435.9 H2230.7 M384.7,4420.3 H354.6 M2200.6,4420.3 H2230.7 M384.7,4409.2 H354.6 M2200.6,4409.2 H2230.7 M384.7,4400.5 H354.6 M2200.6,4400.5 H2230.7 M384.7,4393.5 H354.6 M2200.6,4393.5 H2230.7 M384.7,4387.6 H354.6 M2200.6,4387.6 H2230.7 M384.7,4382.4 H354.6 M2200.6,4382.4 H2230.7 M384.7,4377.8 H354.6 M2200.6,4377.8 H2230.7 M384.7,4498.1 H354.6 M2200.6,4498.1 H2230.7 M384.7,4489.5 H354.6 M2200.6,4489.5 H2230.7 M384.7,4482.4 H354.6 M2200.6,4482.4 H2230.7 M384.7,4476.5 H354.6 M2200.6,4476.5 H2230.7 M384.7,4471.3 H354.6 M2200.6,4471.3 H2230.7 M384.7,4466.8 H354.6 M2200.6,4466.8 H2230.7"/></g>
<clipPath id="cpb"><rect x="384.7" y="2684.3" width="1815.9" height="1816.1"/></clipPath>
<g clip-path="url(#cpb)" fill="none" stroke="#000" stroke-width="5.6" stroke-linecap="round" stroke-linejoin="round"><path d="M420.5,4500.4 L439.2,3900 L457.3,3606.8 L475.5,3424 L494,3297.3 L495.2,3291.5 L496.5,3285.7 L497.7,3279.9 L498.9,3274 L500.2,3268.2 L501.4,3262.3 L502.7,3256.5 L504,3250.6 L505.2,3244.7 L506.5,3238.9 L507.8,3233 L509.1,3227.1 L510.5,3221.2 L511.8,3215.3 L513.2,3209.4 L514.6,3203.5 L516,3197.7 L517.5,3191.8 L519,3185.9 L520.5,3180.1 L522.1,3174.2 L523.7,3168.4 L525.3,3162.6 L527,3156.7 L528.7,3150.9 L530.4,3145.2 L532.2,3139.4 L534.1,3133.6 L536,3127.9 L538,3122.2 L540,3116.5 L542.1,3110.9 L544.2,3105.2 L546.4,3099.6 L548.6,3094 L550.9,3088.5 L553.3,3083 L555.8,3077.5 L558.3,3072 L560.9,3066.6 L563.6,3061.2 L566.3,3055.9 L569.2,3050.5 L572.1,3045.3 L575.1,3040 L578.1,3034.8 L581.3,3029.7 L584.5,3024.6 L587.9,3019.5 L591.3,3014.5 L594.8,3009.6 L598.3,3004.7 L602,2999.9 L605.7,2995.1 L609.5,2990.4 L613.4,2985.8 L617.3,2981.2 L621.4,2976.7 L625.5,2972.3 L629.7,2967.9 L633.9,2963.6 L638.3,2959.4 L642.7,2955.3 L647.1,2951.3 L651.7,2947.3 L656.3,2943.5 L661,2939.7 L665.7,2936 L670.5,2932.4 L675.4,2929 L680.4,2925.6 L685.4,2922.3 L690.5,2919.1 L695.6,2916.1 L700.8,2913.1 L706.1,2910.3 L711.4,2907.5 L716.7,2904.9 L722.2,2902.3 L727.6,2899.8 L733.1,2897.4 L738.7,2895.2 L744.3,2892.9 L749.9,2890.8 L755.6,2888.7 L761.3,2886.7 L767,2884.8 L772.7,2882.9 L778.5,2881.1 L784.3,2879.4 L790.1,2877.7 L795.9,2876 L801.7,2874.4 L807.5,2872.8 L813.4,2871.3 L819.2,2869.8 L825.1,2868.4 L831,2867 L836.8,2865.6 L842.7,2864.3 L848.6,2863 L854.5,2861.7 L860.4,2860.5 L866.3,2859.3 L872.2,2858.1 L878.1,2857 L884,2855.9 L889.9,2854.8 L895.9,2853.8 L901.8,2852.8 L907.7,2851.8 L913.7,2850.9 L919.6,2850 L925.6,2849.1 L931.6,2848.2 L937.5,2847.4 L943.5,2846.5 L949.5,2845.7 L955.4,2845 L961.4,2844.2 L967.4,2843.5 L973.4,2842.7 L979.4,2842 L985.4,2841.4 L991.4,2840.7 L997.4,2840.1 L1003.4,2839.4 L1009.4,2838.8 L1015.4,2838.2 L1021.4,2837.6 L1027.4,2837 L1033.4,2836.5 L1039.4,2835.9 L1045.4,2835.4 L1051.4,2834.8 L1057.4,2834.3 L1063.4,2833.8 L1069.4,2833.3 L1075.5,2832.8 L1081.5,2832.3 L1087.5,2831.8 L1093.5,2831.3 L1099.5,2830.8 L1105.5,2830.3 L1111.5,2829.8 L1117.6,2829.3 L1123.6,2828.8 L1129.6,2828.4 L1135.6,2827.9 L1141.6,2827.4 L1147.6,2826.9 L1153.6,2826.5 L1159.6,2826 L1165.6,2825.5 L1171.6,2825.1 L1177.6,2824.6 L1183.6,2824.1 L1189.7,2823.7 L1195.7,2823.2 L1201.7,2822.8 L1207.7,2822.3 L1213.7,2821.9 L1219.7,2821.4 L1225.7,2821 L1231.7,2820.5 L1237.7,2820.1 L1243.7,2819.7 L1249.7,2819.2 L1255.7,2818.8 L1261.7,2818.4 L1267.7,2818 L1273.7,2817.5 L1279.7,2817.1 L1285.7,2816.7 L1291.7,2816.3 L1297.7,2815.9 L1303.7,2815.5 L1309.8,2815.1 L1315.8,2814.7 L1321.8,2814.3 L1327.8,2813.9 L1333.8,2813.5 L1339.8,2813.2 L1345.8,2812.8 L1351.8,2812.4 L1357.8,2812 L1363.8,2811.7 L1369.8,2811.3 L1375.8,2810.9 L1381.8,2810.6 L1387.8,2810.2 L1393.8,2809.9 L1399.9,2809.6 L1405.9,2809.2 L1411.9,2808.9 L1417.9,2808.5 L1423.9,2808.2 L1429.9,2807.9 L1435.9,2807.6 L1441.9,2807.3 L1447.9,2806.9 L1454,2806.6 L1460,2806.3 L1466,2806 L1472,2805.7 L1478,2805.4 L1484,2805.2 L1490,2804.9 L1496.1,2804.6 L1502.1,2804.3 L1508.1,2804 L1514.1,2803.8 L1520.1,2803.5 L1526.1,2803.2 L1532.2,2803 L1538.2,2802.7 L1544.2,2802.4 L1550.2,2802.2 L1556.2,2801.9 L1562.3,2801.7 L1568.3,2801.4 L1574.3,2801.2 L1580.3,2800.9 L1586.3,2800.7 L1592.3,2800.5 L1598.4,2800.2 L1604.4,2800 L1610.4,2799.8 L1616.4,2799.6 L1622.5,2799.3 L1628.5,2799.1 L1634.5,2798.9 L1640.5,2798.7 L1646.5,2798.5 L1652.6,2798.2 L1658.6,2798 L1664.6,2797.8 L1670.6,2797.6 L1676.7,2797.4 L1682.7,2797.2 L1688.7,2797 L1694.7,2796.8 L1700.8,2796.6 L1706.8,2796.4 L1712.8,2796.2 L1718.8,2796 L1724.8,2795.8 L1730.9,2795.7 L1736.9,2795.5 L1742.9,2795.3 L1748.9,2795.1 L1755,2794.9 L1761,2794.7 L1767,2794.6 L1773,2794.4 L1779.1,2794.2 L1785.1,2794 L1791.1,2793.8 L1797.1,2793.7 L1803.2,2793.5 L1809.2,2793.3 L1815.2,2793.2 L1821.2,2793 L1827.3,2792.8 L1833.3,2792.6 L1839.3,2792.5 L1845.3,2792.3 L1851.4,2792.1 L1857.4,2792 L1863.4,2791.8 L1869.4,2791.6 L1875.5,2791.5 L1881.5,2791.3 L1887.5,2791.1 L1893.5,2791 L1899.6,2790.8 L1905.6,2790.6 L1911.6,2790.5 L1917.6,2790.3 L1923.7,2790.2 L1929.7,2790 L1935.7,2789.8 L1941.7,2789.7 L1947.8,2789.5 L1953.8,2789.3 L1959.8,2789.2 L1965.8,2789 L1971.9,2788.8 L1977.9,2788.7 L1983.9,2788.5 L1989.9,2788.3 L1995.9,2788.2 L2002,2788 L2008,2787.8 L2014,2787.7 L2020,2787.5 L2026.1,2787.3 L2032.1,2787.1 L2038.1,2787 L2044.1,2786.8 L2050.1,2786.6 L2056.2,2786.5 L2062.2,2786.3 L2068.2,2786.1 L2074.2,2785.9 L2080.2,2785.7 L2086.3,2785.6 L2092.3,2785.4 L2098.3,2785.2 L2104.3,2785 L2110.3,2784.8 L2116.3,2784.6 L2122.4,2784.4 L2128.4,2784.2 L2134.4,2784.1 L2140.4,2783.9 L2146.4,2783.7 L2152.4,2783.5 L2158.5,2783.3 L2164.5,2783.1 L2170.5,2782.9 L2176.5,2782.6 L2182.5,2782.4 L2188.5,2782.2 L2194.5,2782 L2200.6,2781.8"/><path d="M1005.3,4500.3 L1006.9,4494.6 L1008.5,4488.8 L1010.2,4483 L1011.8,4477.2 L1013.5,4471.5 L1015.1,4465.7 L1016.8,4459.9 L1018.5,4454.1 L1020.1,4448.4 L1021.8,4442.6 L1023.5,4436.8 L1025.2,4431 L1026.9,4425.3 L1028.6,4419.5 L1030.3,4413.7 L1032,4408 L1033.7,4402.2 L1035.4,4396.4 L1037.2,4390.7 L1038.9,4384.9 L1040.6,4379.2 L1042.4,4373.4 L1044.1,4367.7 L1045.9,4361.9 L1047.7,4356.1 L1049.4,4350.4 L1051.2,4344.7 L1053,4338.9 L1054.8,4333.2 L1056.6,4327.4 L1058.4,4321.7 L1060.3,4315.9 L1062.1,4310.2 L1063.9,4304.5 L1065.8,4298.7 L1067.6,4293 L1069.5,4287.3 L1071.3,4281.5 L1073.2,4275.8 L1075.1,4270.1 L1077,4264.4 L1078.9,4258.7 L1080.8,4253 L1082.7,4247.2 L1084.6,4241.5 L1086.5,4235.8 L1088.5,4230.1 L1090.4,4224.4 L1092.4,4218.7 L1094.3,4213 L1096.3,4207.4 L1098.3,4201.7 L1100.3,4196 L1102.3,4190.3 L1104.3,4184.6 L1106.3,4178.9 L1108.3,4173.3 L1110.4,4167.6 L1112.4,4161.9 L1114.5,4156.3 L1116.5,4150.6 L1118.6,4145 L1120.7,4139.3 L1122.8,4133.7 L1124.9,4128 L1127,4122.4 L1129.1,4116.8 L1131.3,4111.1 L1133.4,4105.5 L1135.6,4099.9 L1137.7,4094.3 L1139.9,4088.6 L1142.1,4083 L1144.3,4077.4 L1146.5,4071.8 L1148.7,4066.2 L1150.9,4060.6 L1153.2,4055 L1155.4,4049.5 L1157.7,4043.9 L1159.9,4038.3 L1162.2,4032.7 L1164.5,4027.2 L1166.8,4021.6 L1169.2,4016 L1171.5,4010.5 L1173.8,4004.9 L1176.2,3999.4 L1178.5,3993.9 L1180.9,3988.3 L1183.3,3982.8 L1185.7,3977.3 L1188.1,3971.8 L1190.5,3966.2 L1193,3960.7 L1195.4,3955.2 L1197.9,3949.7 L1200.3,3944.3 L1202.8,3938.8 L1205.3,3933.3 L1207.8,3927.8 L1210.4,3922.3 L1212.9,3916.9 L1215.5,3911.4 L1218,3906 L1220.6,3900.5 L1223.2,3895.1 L1225.8,3889.7 L1228.4,3884.2 L1231,3878.8 L1233.7,3873.4 L1236.3,3868 L1239,3862.6 L1241.7,3857.2 L1244.4,3851.8 L1247.1,3846.4 L1249.8,3841 L1252.5,3835.7 L1255.3,3830.3 L1258.1,3824.9 L1260.8,3819.6 L1263.6,3814.2 L1266.4,3808.9 L1269.3,3803.6 L1272.1,3798.3 L1274.9,3792.9 L1277.8,3787.6 L1280.7,3782.3 L1283.6,3777.1 L1286.5,3771.8 L1289.4,3766.5 L1292.3,3761.2 L1295.3,3756 L1298.2,3750.7 L1301.2,3745.5 L1304.2,3740.2 L1307.2,3735 L1310.2,3729.8 L1313.3,3724.6 L1316.3,3719.4 L1319.4,3714.2 L1322.5,3709 L1325.5,3703.8 L1328.7,3698.7 L1331.8,3693.5 L1334.9,3688.3 L1338.1,3683.2 L1341.2,3678.1 L1344.4,3673 L1347.6,3667.8 L1350.8,3662.7 L1354,3657.7 L1357.3,3652.6 L1360.5,3647.5 L1363.8,3642.4 L1367.1,3637.4 L1370.4,3632.3 L1373.7,3627.3 L1377,3622.3 L1380.4,3617.3 L1383.7,3612.3 L1387.1,3607.3 L1390.5,3602.3 L1393.9,3597.4 L1397.3,3592.4 L1400.7,3587.4 L1404.2,3582.5 L1407.6,3577.6 L1411.1,3572.7 L1414.6,3567.8 L1418.1,3562.9 L1421.7,3558 L1425.2,3553.1 L1428.8,3548.3 L1432.3,3543.5 L1435.9,3538.6 L1439.5,3533.8 L1443.1,3529 L1446.8,3524.2 L1450.4,3519.4 L1454.1,3514.7 L1457.8,3509.9 L1461.5,3505.2 L1465.2,3500.4 L1468.9,3495.7 L1472.6,3491 L1476.4,3486.3 L1480.2,3481.6 L1484,3477 L1487.8,3472.3 L1491.6,3467.7 L1495.4,3463 L1499.3,3458.4 L1503.2,3453.8 L1507,3449.2 L1510.9,3444.7 L1514.9,3440.1 L1518.8,3435.6 L1522.8,3431 L1526.7,3426.5 L1530.7,3422 L1534.7,3417.5 L1538.7,3413.1 L1542.7,3408.6 L1546.8,3404.2 L1550.9,3399.7 L1554.9,3395.3 L1559,3390.9 L1563.1,3386.5 L1567.3,3382.2 L1571.4,3377.8 L1575.6,3373.5 L1579.8,3369.1 L1583.9,3364.8 L1588.2,3360.5 L1592.4,3356.2 L1596.6,3352 L1600.9,3347.7 L1605.1,3343.5 L1609.4,3339.3 L1613.7,3335 L1618,3330.9 L1622.4,3326.7 L1626.7,3322.5 L1631.1,3318.4 L1635.4,3314.2 L1639.8,3310.1 L1644.2,3306 L1648.6,3301.9 L1653.1,3297.9 L1657.5,3293.8 L1662,3289.8 L1666.4,3285.7 L1670.9,3281.7 L1675.4,3277.7 L1679.9,3273.8 L1684.5,3269.8 L1689,3265.8 L1693.6,3261.9 L1698.1,3258 L1702.7,3254.1 L1707.3,3250.2 L1711.9,3246.3 L1716.6,3242.5 L1721.2,3238.6 L1725.9,3234.8 L1730.5,3231 L1735.2,3227.2 L1739.9,3223.4 L1744.6,3219.7 L1749.3,3215.9 L1754,3212.2 L1758.8,3208.5 L1763.5,3204.8 L1768.3,3201.1 L1773.1,3197.4 L1777.9,3193.8 L1782.7,3190.1 L1787.5,3186.5 L1792.3,3182.9 L1797.2,3179.3 L1802,3175.8 L1806.9,3172.2 L1811.8,3168.7 L1816.7,3165.1 L1821.6,3161.6 L1826.5,3158.1 L1831.4,3154.7 L1836.3,3151.2 L1841.3,3147.8 L1846.2,3144.3 L1851.2,3140.9 L1856.2,3137.5 L1861.2,3134.2 L1866.2,3130.8 L1871.2,3127.5 L1876.2,3124.1 L1881.3,3120.8 L1886.3,3117.5 L1891.4,3114.3 L1896.4,3111 L1901.5,3107.7 L1906.6,3104.5 L1911.7,3101.3 L1916.8,3098.1 L1922,3094.9 L1927.1,3091.8 L1932.2,3088.6 L1937.4,3085.5 L1942.5,3082.4 L1947.7,3079.3 L1952.9,3076.2 L1958.1,3073.2 L1963.3,3070.1 L1968.5,3067.1 L1973.7,3064.1 L1979,3061.1 L1984.2,3058.1 L1989.5,3055.1 L1994.7,3052.2 L2000,3049.3 L2005.3,3046.4 L2010.5,3043.5 L2015.8,3040.6 L2021.1,3037.7 L2026.5,3034.9 L2031.8,3032.1 L2037.1,3029.3 L2042.5,3026.5 L2047.8,3023.7 L2053.2,3021 L2058.5,3018.2 L2063.9,3015.5 L2069.3,3012.8 L2074.7,3010.1 L2080.1,3007.4 L2085.5,3004.8 L2090.9,3002.2 L2096.3,2999.5 L2101.8,2997 L2107.2,2994.4 L2112.6,2991.8 L2118.1,2989.3 L2123.6,2986.7 L2129,2984.2 L2134.5,2981.7 L2140,2979.3 L2145.5,2976.8 L2151,2974.4 L2156.5,2971.9 L2162,2969.5 L2167.5,2967.2 L2173,2964.8 L2178.6,2962.4 L2184.1,2960.1 L2189.7,2957.8 L2195.2,2955.5 L2200.8,2953.2"/><path d="M1121.6,4500.4 L1123.7,4494.8 L1125.7,4489.2 L1127.8,4483.5 L1129.8,4477.9 L1131.9,4472.3 L1134,4466.6 L1136.1,4461 L1138.2,4455.4 L1140.4,4449.8 L1142.5,4444.1 L1144.6,4438.5 L1146.8,4432.9 L1148.9,4427.3 L1151.1,4421.7 L1153.3,4416 L1155.5,4410.4 L1157.7,4404.8 L1159.9,4399.2 L1162.1,4393.6 L1164.4,4388 L1166.6,4382.4 L1168.9,4376.8 L1171.1,4371.2 L1173.4,4365.7 L1175.7,4360.1 L1178,4354.5 L1180.3,4348.9 L1182.7,4343.3 L1185,4337.8 L1187.3,4332.2 L1189.7,4326.6 L1192.1,4321.1 L1194.4,4315.5 L1196.8,4310 L1199.2,4304.4 L1201.6,4298.9 L1204.1,4293.3 L1206.5,4287.8 L1209,4282.3 L1211.4,4276.7 L1213.9,4271.2 L1216.4,4265.7 L1218.9,4260.2 L1221.4,4254.7 L1223.9,4249.2 L1226.4,4243.7 L1229,4238.2 L1231.5,4232.7 L1234.1,4227.2 L1236.7,4221.7 L1239.3,4216.3 L1241.9,4210.8 L1244.5,4205.3 L1247.1,4199.9 L1249.7,4194.4 L1252.4,4189 L1255,4183.6 L1257.7,4178.1 L1260.4,4172.7 L1263.1,4167.3 L1265.8,4161.9 L1268.5,4156.5 L1271.3,4151.1 L1274,4145.7 L1276.8,4140.3 L1279.6,4134.9 L1282.4,4129.5 L1285.2,4124.1 L1288,4118.8 L1290.8,4113.4 L1293.6,4108.1 L1296.5,4102.7 L1299.4,4097.4 L1302.2,4092.1 L1305.1,4086.8 L1308,4081.5 L1310.9,4076.2 L1313.9,4070.9 L1316.8,4065.6 L1319.8,4060.3 L1322.7,4055 L1325.7,4049.8 L1328.7,4044.5 L1331.7,4039.3 L1334.8,4034 L1337.8,4028.8 L1340.8,4023.6 L1343.9,4018.4 L1347,4013.1 L1350.1,4008 L1353.2,4002.8 L1356.3,3997.6 L1359.4,3992.4 L1362.6,3987.3 L1365.7,3982.1 L1368.9,3977 L1372.1,3971.8 L1375.3,3966.7 L1378.5,3961.6 L1381.8,3956.5 L1385,3951.4 L1388.3,3946.3 L1391.5,3941.2 L1394.8,3936.2 L1398.1,3931.1 L1401.4,3926.1 L1404.8,3921 L1408.1,3916 L1411.5,3911 L1414.8,3906 L1418.2,3901 L1421.6,3896 L1425.1,3891.1 L1428.5,3886.1 L1431.9,3881.1 L1435.4,3876.2 L1438.9,3871.3 L1442.4,3866.4 L1445.9,3861.4 L1449.4,3856.6 L1452.9,3851.7 L1456.5,3846.8 L1460,3841.9 L1463.6,3837.1 L1467.2,3832.3 L1470.8,3827.4 L1474.4,3822.6 L1478.1,3817.8 L1481.7,3813 L1485.4,3808.2 L1489.1,3803.5 L1492.8,3798.7 L1496.5,3794 L1500.3,3789.3 L1504,3784.5 L1507.8,3779.8 L1511.6,3775.2 L1515.3,3770.5 L1519.2,3765.8 L1523,3761.2 L1526.8,3756.5 L1530.7,3751.9 L1534.6,3747.3 L1538.5,3742.7 L1542.4,3738.1 L1546.3,3733.5 L1550.2,3729 L1554.2,3724.4 L1558.2,3719.9 L1562.1,3715.4 L1566.1,3710.9 L1570.2,3706.4 L1574.2,3701.9 L1578.2,3697.5 L1582.3,3693 L1586.4,3688.6 L1590.5,3684.2 L1594.6,3679.8 L1598.8,3675.4 L1602.9,3671 L1607.1,3666.7 L1611.3,3662.3 L1615.5,3658 L1619.7,3653.7 L1623.9,3649.4 L1628.2,3645.1 L1632.4,3640.8 L1636.7,3636.6 L1641,3632.3 L1645.3,3628.1 L1649.7,3623.9 L1654,3619.7 L1658.4,3615.5 L1662.8,3611.4 L1667.2,3607.2 L1671.6,3603.1 L1676,3599 L1680.5,3594.9 L1684.9,3590.8 L1689.4,3586.7 L1693.9,3582.7 L1698.4,3578.6 L1702.9,3574.6 L1707.5,3570.6 L1712,3566.6 L1716.6,3562.6 L1721.1,3558.6 L1725.7,3554.7 L1730.3,3550.7 L1734.9,3546.8 L1739.6,3542.9 L1744.2,3539 L1748.9,3535.1 L1753.5,3531.2 L1758.2,3527.4 L1762.9,3523.5 L1767.6,3519.7 L1772.3,3515.9 L1777,3512.1 L1781.7,3508.3 L1786.5,3504.5 L1791.2,3500.7 L1796,3496.9 L1800.7,3493.2 L1805.5,3489.5 L1810.3,3485.7 L1815.1,3482 L1819.9,3478.3 L1824.7,3474.7 L1829.5,3471 L1834.4,3467.3 L1839.2,3463.7 L1844,3460 L1848.9,3456.4 L1853.8,3452.8 L1858.6,3449.2 L1863.5,3445.6 L1868.4,3442 L1873.3,3438.5 L1878.2,3434.9 L1883.1,3431.4 L1888,3427.8 L1892.9,3424.3 L1897.8,3420.8 L1902.7,3417.3 L1907.6,3413.8 L1912.6,3410.3 L1917.5,3406.8 L1922.5,3403.4 L1927.4,3399.9 L1932.4,3396.5 L1937.3,3393.1 L1942.3,3389.7 L1947.3,3386.3 L1952.3,3382.9 L1957.3,3379.5 L1962.3,3376.2 L1967.3,3372.9 L1972.3,3369.5 L1977.3,3366.2 L1982.4,3363 L1987.4,3359.7 L1992.5,3356.4 L1997.5,3353.2 L2002.6,3350 L2007.7,3346.8 L2012.8,3343.6 L2017.9,3340.4 L2023,3337.3 L2028.2,3334.2 L2033.3,3331.1 L2038.5,3328 L2043.7,3324.9 L2048.9,3321.9 L2054.1,3318.9 L2059.3,3315.9 L2064.5,3312.9 L2069.7,3309.9 L2075,3307 L2080.3,3304.1 L2085.6,3301.2 L2090.9,3298.4 L2096.2,3295.5 L2101.5,3292.7 L2106.9,3289.9 L2112.2,3287.2 L2117.6,3284.4 L2123,3281.7 L2128.4,3279 L2133.9,3276.4 L2139.3,3273.7 L2144.8,3271.1 L2150.3,3268.6 L2155.8,3266 L2161.3,3263.5 L2166.9,3261 L2172.4,3258.6 L2178,3256.1 L2183.6,3253.7 L2189.2,3251.4 L2194.9,3249 L2200.5,3246.7"/></g>
<g class="b" text-anchor="middle"><text x="384.7" y="2578.1">0</text><text x="384.7" y="4649.2">0</text><text x="747.9" y="2578.1">2000</text><text x="747.9" y="4649.2">2000</text><text x="1111.1" y="2578.1">4000</text><text x="1111.1" y="4649.2">4000</text><text x="1474.2" y="2578.1">6000</text><text x="1474.2" y="4649.2">6000</text><text x="1837.4" y="2578.1">8000</text><text x="1837.4" y="4649.2">8000</text><text x="2200.6" y="2578.1">10000</text><text x="2200.6" y="4649.2">10000</text></g>
<clipPath id="cpr"><rect x="0" y="2400" width="2405.5" height="2300"/></clipPath>
<g class="b" clip-path="url(#cpr)"><text x="294.7" y="2711.6" text-anchor="end">10<tspan class="sp" dy="-34.5">7</tspan></text><text x="294.7" y="3156.2" text-anchor="end">10<tspan class="sp" dy="-34.5">2</tspan></text><text x="294.7" y="3600.8" text-anchor="end">10<tspan class="sp" dy="-34.5">-3</tspan></text><text x="294.7" y="4045.4" text-anchor="end">10<tspan class="sp" dy="-34.5">-8</tspan></text><text x="294.7" y="4490" text-anchor="end">10<tspan class="sp" dy="-34.5">-13</tspan></text><text x="2289.6" y="2711.6">10<tspan class="sp" dy="-34.5">7</tspan></text><text x="2289.6" y="3156.2">10<tspan class="sp" dy="-34.5">2</tspan></text><text x="2289.6" y="3600.8">10<tspan class="sp" dy="-34.5">-3</tspan></text><text x="2289.6" y="4045.4">10<tspan class="sp" dy="-34.5">-8</tspan></text><text x="2289.6" y="4490">10<tspan class="sp" dy="-34.5">-13</tspan></text></g>
<text class="b an" x="395.2" y="2758.1"><tspan class="i">x</tspan> = 250 m, <tspan class="i">y</tspan> = 50 m, <tspan class="i">z</tspan> = 50 m</text>
<text class="b an" text-anchor="middle" transform="translate(81.6,3594) rotate(-90)"><tspan class="i">C</tspan> [Bq/m³]</text>
<text class="n" x="698.5" y="2982.5"><tspan class="ns" dy="-20.5">226</tspan><tspan dy="20.5">Ra</tspan></text>
<text class="n" x="1571.4" y="3462.9"><tspan class="ns" dy="-20.5">234</tspan><tspan dy="20.5">U</tspan></text>
<text class="n" x="1775.6" y="3623.4"><tspan class="ns" dy="-20.5">230</tspan><tspan dy="20.5">Th</tspan></text>
<clipPath id="cpt"><rect x="0" y="4600" width="2439" height="197.6"/></clipPath>
<g clip-path="url(#cpt)"><text class="b" text-anchor="middle" x="1290" y="4787.8"><tspan class="i">t</tspan> [year]</text></g>
<text class="cap" text-anchor="middle" x="1237.6" y="4885.8">(b)</text>
</svg></body></html>
